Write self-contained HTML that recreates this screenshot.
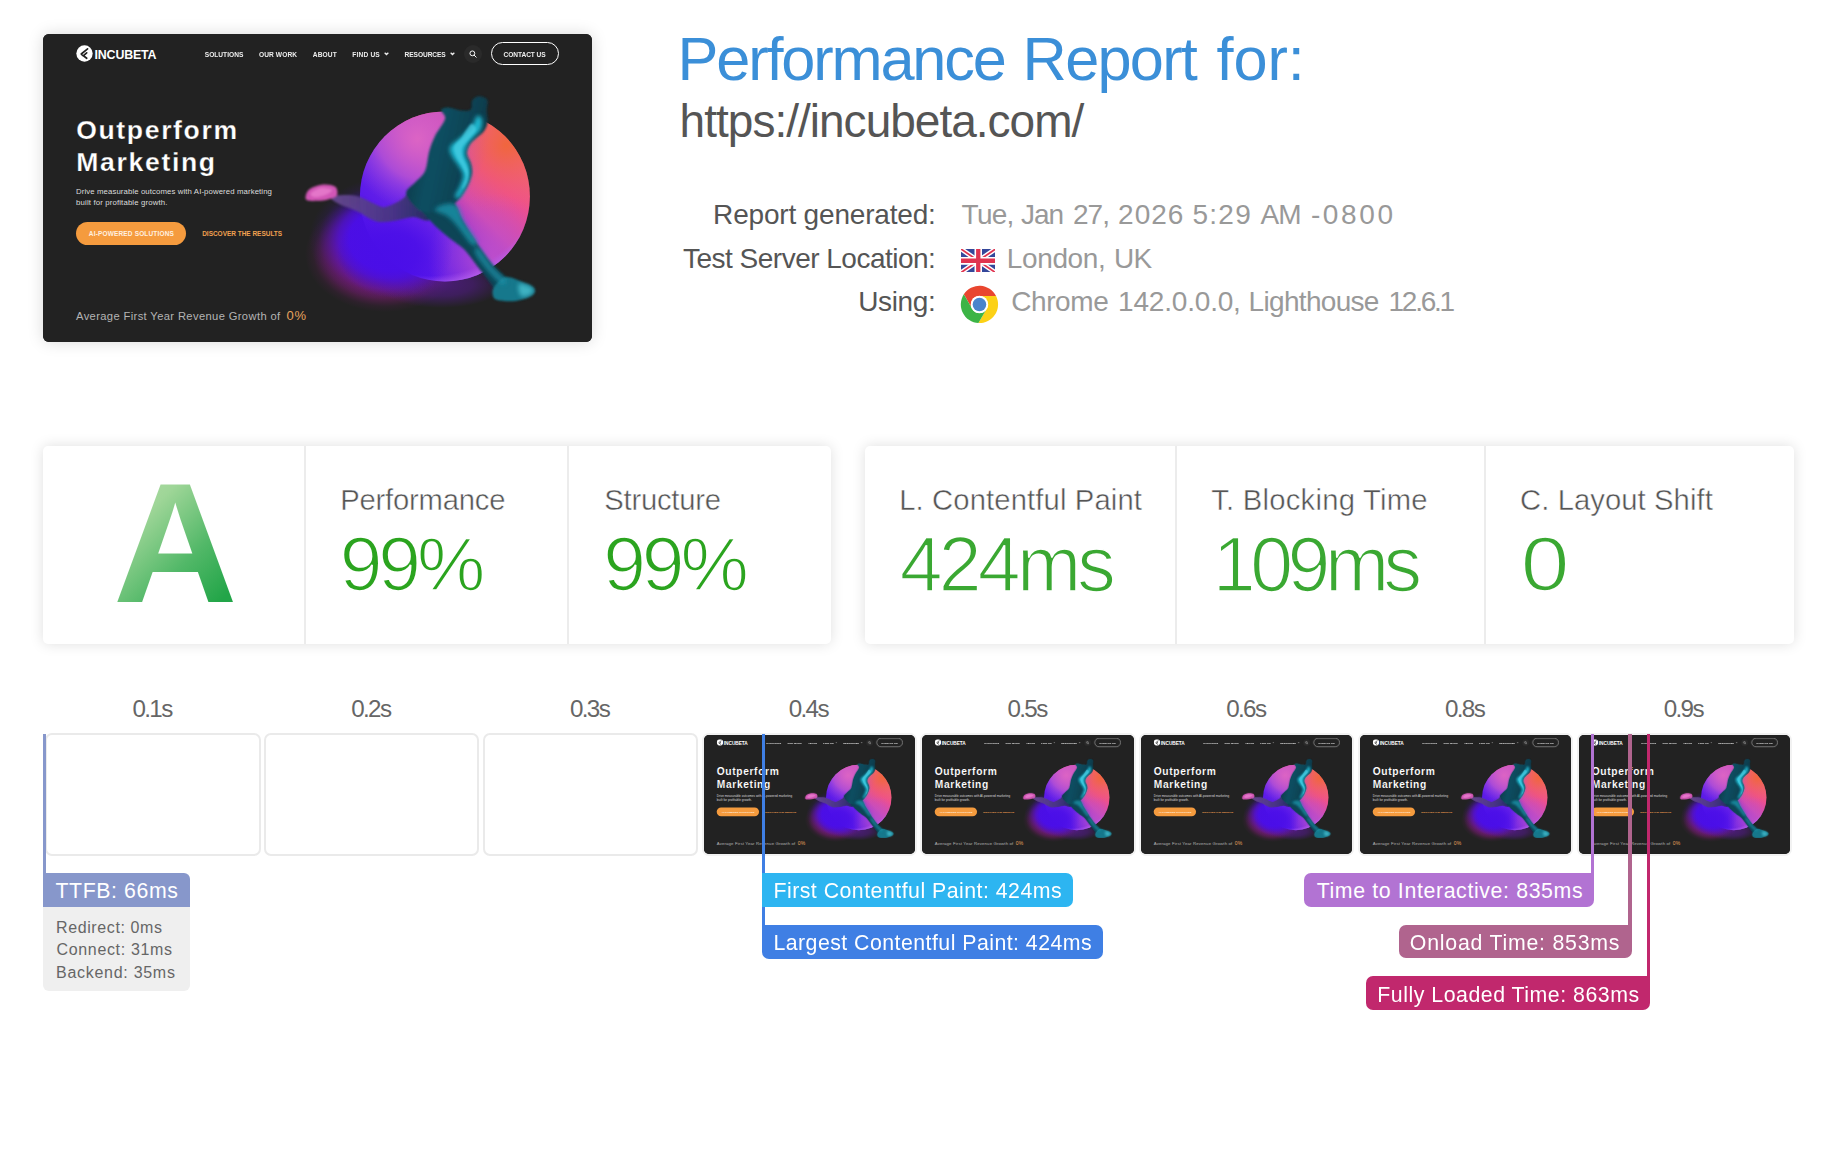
<!DOCTYPE html>
<html lang="en"><head><meta charset="utf-8"><title>Performance Report</title><style>
*{box-sizing:border-box;margin:0;padding:0}
html,body{width:1836px;height:1170px;background:#fff;overflow:hidden}
body{position:relative;font-family:"Liberation Sans",sans-serif}
.t{position:absolute;white-space:nowrap;line-height:1em}
.shot{position:absolute;left:43px;top:34px;width:549px;height:308px;border-radius:6px;overflow:hidden;box-shadow:0 0 16px rgba(0,0,0,.15);background:#222}
.site{position:absolute;left:0;top:0;width:549px;height:308px;background:#222;overflow:hidden}
.site .art{position:absolute;left:0;top:0}
.site .logo{position:absolute;left:32.8px;top:10.9px}
.site .chev{position:absolute}
.site .srch{position:absolute;left:421px;top:10.8px;width:18px;height:18px;border-radius:50%;background:#2a2a2a;display:flex;align-items:center;justify-content:center}
.site .pill{position:absolute;left:447.8px;top:8.1px;width:68px;height:23px;border:1.4px solid #fff;border-radius:12px}
.site .btn{position:absolute;left:33px;top:187.7px;width:110.3px;height:22.9px;border-radius:12px;background:#f59b3e}
.card{position:absolute;top:446px;height:197.5px;background:#fff;border-radius:5px;box-shadow:0 0 14px rgba(0,0,0,.13)}
.dv{position:absolute;top:446px;height:197.5px;width:2px;background:#ececec}
.grade{position:absolute;font-weight:700;line-height:1em;background:linear-gradient(135deg,#b9dfae 0%,#9fd698 30%,#52b868 60%,#22a548 85%);-webkit-background-clip:text;background-clip:text;color:transparent;-webkit-text-fill-color:transparent}
.fr{position:absolute;top:733.2px;width:215.4px;height:122.4px;border:2px solid #eaeaea;border-radius:7px;background:#fff;overflow:hidden}
.fr.dk{border-color:#f2f2f2;background:#222}
.thumb{position:absolute;left:0;top:0.3px;width:549px;height:308px;transform-origin:0 0;transform:scale(0.38506)}
.ln{position:absolute}
.lb{position:absolute;height:33.5px}
</style></head><body>
<div class="shot"><div class="site"><svg class="art" viewBox="0 0 549 308" width="549" height="308">
<defs>
<radialGradient id="glm"><stop offset="0" stop-color="#4a0ee8"/><stop offset="0.5" stop-color="#4a0ee8" stop-opacity="0.97"/><stop offset="0.63" stop-color="#490fe0" stop-opacity="0.75"/><stop offset="0.76" stop-color="#4710c8" stop-opacity="0.4"/><stop offset="0.88" stop-color="#4410b0" stop-opacity="0.12"/><stop offset="1" stop-color="#4010a0" stop-opacity="0"/></radialGradient>
<radialGradient id="gmm"><stop offset="0" stop-color="#a01c8c" stop-opacity="0.7"/><stop offset="0.6" stop-color="#a01c8c" stop-opacity="0.65"/><stop offset="0.76" stop-color="#981a88" stop-opacity="0.4"/><stop offset="0.9" stop-color="#901880" stop-opacity="0.1"/><stop offset="1" stop-color="#901880" stop-opacity="0"/></radialGradient>
<radialGradient id="gum"><stop offset="0" stop-color="#5a1a98" stop-opacity="0.7"/><stop offset="0.5" stop-color="#5a1a98" stop-opacity="0.5"/><stop offset="1" stop-color="#5a1a98" stop-opacity="0"/></radialGradient>
<radialGradient id="gom"><stop offset="0" stop-color="#4a0ee8" stop-opacity="0.92"/><stop offset="0.4" stop-color="#4a0ee8" stop-opacity="0.8"/><stop offset="0.7" stop-color="#4a0ee8" stop-opacity="0.35"/><stop offset="1" stop-color="#4a0ee8" stop-opacity="0"/></radialGradient>
<linearGradient id="obm" x1="0.12" y1="0.88" x2="0.92" y2="0.12"><stop offset="0" stop-color="#4a0eea"/><stop offset="0.36" stop-color="#6d26e8"/><stop offset="0.56" stop-color="#d24cae"/><stop offset="0.74" stop-color="#ef4f8c"/><stop offset="0.9" stop-color="#f0607a"/><stop offset="1" stop-color="#f0663c"/></linearGradient>
<radialGradient id="ohm" cx="0.34" cy="0.16" r="0.42"><stop offset="0" stop-color="#dc64c4" stop-opacity="1"/><stop offset="0.55" stop-color="#c058d4" stop-opacity="0.7"/><stop offset="1" stop-color="#9a48e0" stop-opacity="0"/></radialGradient>
<radialGradient id="opm" cx="0.86" cy="0.2" r="0.4"><stop offset="0" stop-color="#f0663a" stop-opacity="0.95"/><stop offset="1" stop-color="#f0607a" stop-opacity="0"/></radialGradient>
<radialGradient id="oqm" cx="0.78" cy="0.86" r="0.38"><stop offset="0" stop-color="#c050cc" stop-opacity="0.9"/><stop offset="1" stop-color="#c050cc" stop-opacity="0"/></radialGradient>
<radialGradient id="orm" cx="0.42" cy="0.3" r="0.74"><stop offset="0.9" stop-color="#b860f0" stop-opacity="0"/><stop offset="1" stop-color="#c070f0" stop-opacity="0.95"/></radialGradient>
<linearGradient id="fgm" x1="0" y1="0" x2="1" y2="0.3"><stop offset="0" stop-color="#0b2d3b"/><stop offset="0.45" stop-color="#114f62"/><stop offset="1" stop-color="#0d3a4a"/></linearGradient>
<linearGradient id="blm" x1="0" y1="0" x2="1" y2="0"><stop offset="0" stop-color="#6a4a94"/><stop offset="0.6" stop-color="#45357c"/><stop offset="1" stop-color="#15304a"/></linearGradient>
<filter id="b1m" x="-10%" y="-10%" width="120%" height="120%"><feGaussianBlur stdDeviation="0.9"/></filter>
<filter id="b3m" x="-50%" y="-50%" width="200%" height="200%"><feGaussianBlur stdDeviation="2.2"/></filter>
</defs>
<ellipse cx="342" cy="220" rx="80" ry="58" fill="url(#gmm)"/>
<ellipse cx="398" cy="250" rx="64" ry="24" fill="url(#gum)"/>
<ellipse cx="346" cy="205" rx="80" ry="62" fill="url(#glm)"/>
<circle cx="401.9" cy="162.4" r="85" fill="url(#obm)"/>
<circle cx="401.9" cy="162.4" r="85" fill="url(#ohm)"/>
<circle cx="401.9" cy="162.4" r="85" fill="url(#opm)"/>
<circle cx="401.9" cy="162.4" r="85" fill="url(#oqm)"/>
<circle cx="401.9" cy="162.4" r="85" fill="url(#orm)"/>
<ellipse cx="352" cy="218" rx="58" ry="46" fill="url(#gom)"/>
<g filter="url(#b1m)">
<path d="M379.0 146.0C374.0 143.8 369.2 153.9 366.0 157.0C362.8 160.1 363.4 162.2 359.8 164.8C356.2 167.4 348.2 171.4 344.1 172.6C340.0 173.8 340.5 173.4 335.4 171.7C330.3 169.9 320.1 163.8 313.6 162.1C307.1 160.4 300.6 161.2 296.2 161.3C291.8 161.5 287.0 161.6 287.0 163.0C287.0 164.4 291.8 167.7 296.2 170.0C300.6 172.3 307.4 174.1 313.6 177.0C319.9 179.9 327.1 185.8 333.7 187.4C340.2 189.0 346.8 187.2 352.9 186.5C359.0 185.8 364.8 183.2 370.3 183.1C375.8 183.0 381.7 188.2 386.0 186.0C390.3 183.8 397.2 176.7 396.0 170.0C394.8 163.3 384.0 148.2 379.0 146.0Z" fill="url(#blm)" opacity="0.92"/>
<path d="M291.9 152.6C289.4 150.9 283.2 150.2 278.8 150.8C274.4 151.4 268.3 153.5 265.7 156.0C263.1 158.5 261.7 163.8 263.1 165.6C264.6 167.4 270.6 166.9 274.4 166.8C278.2 166.7 282.5 166.2 285.8 165.2C289.1 164.2 293.0 163.1 294.0 161.0C295.0 158.9 294.4 154.3 291.9 152.6Z" fill="#d257b6"/>
<path d="M268.0 159.0C269.2 157.5 274.5 154.5 278.0 154.0C281.5 153.5 288.3 154.8 289.0 156.0C289.7 157.2 285.0 159.8 282.0 161.0C279.0 162.2 273.3 163.3 271.0 163.0C268.7 162.7 266.8 160.5 268.0 159.0Z" fill="#f08ad6" opacity="0.6"/>
<path d="M377.0 172.0C378.0 167.9 389.6 164.9 395.0 164.0C400.4 163.1 405.3 162.7 409.3 166.3C413.3 169.9 414.9 178.5 418.9 185.5C422.9 192.5 428.2 200.8 433.2 208.2C438.2 215.6 443.8 223.8 448.8 229.8C453.8 235.8 459.7 240.4 463.2 244.1C466.7 247.8 470.9 249.0 470.0 252.0C469.1 255.0 461.9 262.7 458.0 262.0C454.1 261.3 450.3 252.7 446.4 247.7C442.5 242.7 438.6 237.6 434.4 232.2C430.2 226.8 426.1 220.2 421.3 215.4C416.5 210.6 411.1 207.9 405.7 203.4C400.3 198.9 393.8 193.7 389.0 188.5C384.2 183.3 376.0 176.1 377.0 172.0Z" fill="#0f4456"/>
<path d="M452.0 252.0C454.2 249.3 458.6 243.7 463.0 243.0C467.4 242.3 474.1 245.9 478.7 247.7C483.3 249.5 488.9 251.5 490.7 253.7C492.5 255.9 492.5 258.7 489.5 260.9C486.5 263.1 478.7 266.1 472.7 266.9C466.7 267.7 457.5 267.0 453.6 265.7C449.7 264.4 449.8 261.3 449.5 259.0C449.2 256.7 449.8 254.7 452.0 252.0Z" fill="#17788c"/>
<path d="M398.0 76.0C398.5 74.1 401.8 73.3 405.2 73.4C408.6 73.5 414.7 76.2 418.5 76.5C422.3 76.8 426.0 77.2 427.8 75.5C429.6 73.8 427.9 68.5 429.3 66.3C430.7 64.1 433.5 62.3 436.0 62.2C438.5 62.1 442.9 63.3 444.2 65.7C445.5 68.1 443.6 72.8 443.7 76.5C443.8 80.2 445.1 84.4 444.7 87.8C444.3 91.2 443.1 94.3 441.1 97.0C439.1 99.7 435.3 102.0 432.9 104.2C430.5 106.4 428.2 107.8 426.7 110.4C425.2 113.0 423.5 116.4 423.7 119.6C423.9 122.8 426.9 126.4 427.8 129.8C428.7 133.2 429.4 136.4 428.8 140.1C428.2 143.8 426.5 148.0 424.5 152.0C422.5 156.0 419.8 160.7 417.0 164.0C414.2 167.3 412.2 169.7 408.0 172.0C403.8 174.3 397.3 177.3 392.0 178.0C386.7 178.7 380.8 179.1 376.0 176.0C371.2 172.9 363.8 164.2 363.2 159.6C362.6 155.0 369.2 152.1 372.4 148.3C375.5 144.5 379.8 142.1 382.1 137.0C384.4 131.9 384.6 123.3 386.2 117.5C387.8 111.7 389.2 107.7 391.9 102.2C394.5 96.7 401.1 89.1 402.1 84.7C403.1 80.3 397.5 77.9 398.0 76.0Z" fill="url(#fgm)"/>
</g>
<g filter="url(#b3m)">
<path d="M434.0 82.0C432.3 83.2 431.8 88.3 429.0 92.0C426.2 95.7 420.7 100.5 417.0 104.0C413.3 107.5 408.3 110.0 407.0 113.0C405.7 116.0 407.7 119.0 409.0 122.0C410.3 125.0 413.2 127.8 415.0 131.0C416.8 134.2 419.7 137.5 420.0 141.0C420.3 144.5 418.3 148.5 417.0 152.0C415.7 155.5 412.2 160.0 412.0 162.0C411.8 164.0 414.2 165.5 416.0 164.0C417.8 162.5 421.2 156.8 423.0 153.0C424.8 149.2 426.5 144.8 427.0 141.0C427.5 137.2 426.8 133.5 426.0 130.0C425.2 126.5 422.2 123.3 422.0 120.0C421.8 116.7 423.5 112.8 425.0 110.0C426.5 107.2 428.8 105.5 431.0 103.0C433.2 100.5 436.7 98.0 438.0 95.0C439.3 92.0 439.7 87.2 439.0 85.0C438.3 82.8 435.7 80.8 434.0 82.0Z" fill="#1fb4cc"/>
<path d="M392.0 176.0C391.7 174.0 398.3 170.7 402.0 170.0C405.7 169.3 410.8 169.0 414.0 172.0C417.2 175.0 417.7 182.0 421.0 188.0C424.3 194.0 432.8 204.3 434.0 208.0C435.2 211.7 431.3 212.7 428.0 210.0C424.7 207.3 418.0 196.7 414.0 192.0C410.0 187.3 407.7 184.7 404.0 182.0C400.3 179.3 392.3 178.0 392.0 176.0Z" fill="#1c93aa" opacity="0.8"/>
<path d="M436.0 214.0C439.0 216.3 445.5 227.7 450.0 233.0C454.5 238.3 461.7 243.2 463.0 246.0C464.3 248.8 461.2 251.7 458.0 250.0C454.8 248.3 448.3 241.2 444.0 236.0C439.7 230.8 433.3 222.7 432.0 219.0C430.7 215.3 433.0 211.7 436.0 214.0Z" fill="#1c93aa" opacity="0.7"/>
<path d="M476.0 250.0C477.8 248.7 487.0 252.3 489.0 254.0C491.0 255.7 489.8 258.7 488.0 260.0C486.2 261.3 480.0 263.7 478.0 262.0C476.0 260.3 474.2 251.3 476.0 250.0Z" fill="#44bccb" opacity="0.85"/>
</g>
<g filter="url(#b1m)"><path d="M428.0 90.0C425.7 91.2 421.8 99.2 419.0 103.0C416.2 106.8 411.8 109.5 411.0 113.0C410.2 116.5 412.5 120.5 414.0 124.0C415.5 127.5 418.5 130.8 420.0 134.0C421.5 137.2 423.2 139.5 423.0 143.0C422.8 146.5 418.8 154.2 419.0 155.0C419.2 155.8 423.0 151.2 424.0 148.0C425.0 144.8 425.7 140.0 425.0 136.0C424.3 132.0 421.0 127.7 420.0 124.0C419.0 120.3 418.0 117.2 419.0 114.0C420.0 110.8 423.7 108.0 426.0 105.0C428.3 102.0 432.7 98.5 433.0 96.0C433.3 93.5 430.3 88.8 428.0 90.0Z" fill="#48d0e6" opacity="0.7"/></g>
</svg>
<svg class="logo" viewBox="0 0 20 20" width="17" height="17"><circle cx="10" cy="10" r="9.6" fill="#fff"/><path d="M13.6 4.6 6.2 10.6l2 1.8M12.6 9.2 8.8 12.6l3.8 3" stroke="#222" stroke-width="2" fill="none" stroke-linecap="round" stroke-linejoin="round"/></svg>
<svg class="chev" style="left:340.5px;top:18.4px" viewBox="0 0 6 4" width="5" height="3.4"><path d="M.8.8 3 3 5.2.8" stroke="#eee" stroke-width="1.5" fill="none"/></svg>
<svg class="chev" style="left:406.5px;top:18.4px" viewBox="0 0 6 4" width="5" height="3.4"><path d="M.8.8 3 3 5.2.8" stroke="#eee" stroke-width="1.5" fill="none"/></svg>
<div class="srch"><svg viewBox="0 0 10 10" width="8" height="8"><circle cx="4.2" cy="4.2" r="3" stroke="#fff" stroke-width="1.2" fill="none"/><path d="M6.5 6.5 9 9" stroke="#fff" stroke-width="1.2" stroke-linecap="round"/></svg></div>
<div class="pill"></div>
<div class="btn"></div>
<div class="t" style="left:51.50px;top:15.40px;font-size:12.4px;letter-spacing:-0.148px;color:#fff;font-weight:700;">INCUBETA</div><div class="t" style="left:161.75px;top:18.21px;font-size:6.6px;letter-spacing:0.013px;color:#eee;font-weight:700;">SOLUTIONS</div><div class="t" style="left:216.05px;top:18.21px;font-size:6.6px;letter-spacing:0.082px;color:#eee;font-weight:700;">OUR WORK</div><div class="t" style="left:269.85px;top:18.21px;font-size:6.6px;letter-spacing:0.104px;color:#eee;font-weight:700;">ABOUT</div><div class="t" style="left:309.30px;top:18.21px;font-size:6.6px;letter-spacing:0.175px;color:#eee;font-weight:700;">FIND US</div><div class="t" style="left:361.60px;top:18.21px;font-size:6.6px;letter-spacing:-0.082px;color:#eee;font-weight:700;">RESOURCES</div><div class="t" style="left:460.45px;top:18.21px;font-size:6.6px;letter-spacing:-0.052px;color:#eee;font-weight:700;">CONTACT US</div><div class="t" style="left:33.15px;top:82.64px;font-size:26.56px;letter-spacing:1.660px;color:#fff;font-weight:700;-webkit-text-stroke:0.25px #222;">Outperform</div><div class="t" style="left:33.22px;top:115.24px;font-size:26.56px;letter-spacing:1.684px;color:#fff;font-weight:700;-webkit-text-stroke:0.25px #222;">Marketing</div><div class="t" style="left:33.00px;top:153.80px;font-size:7.8px;letter-spacing:0.097px;color:#dcdcdc;">Drive measurable outcomes with AI-powered marketing</div><div class="t" style="left:33.10px;top:164.50px;font-size:7.8px;letter-spacing:0.140px;color:#dcdcdc;">built for profitable growth.</div><div class="t" style="left:45.85px;top:197.30px;font-size:6.5px;letter-spacing:0.159px;color:#fff0e0;font-weight:700;">AI-POWERED SOLUTIONS</div><div class="t" style="left:159.20px;top:196.90px;font-size:6.5px;letter-spacing:-0.025px;color:#f0a050;font-weight:700;">DISCOVER THE RESULTS</div><div class="t" style="left:33.00px;top:276.52px;font-size:11.2px;letter-spacing:0.366px;color:#b4b4b4;">Average First Year Revenue Growth of</div><div class="t" style="left:243.39px;top:275.20px;font-size:13.0px;letter-spacing:0.804px;color:#e6a25e;">0%</div>
</div></div>
<svg style="position:absolute;left:960.5px;top:248.7px" width="34.5" height="23.6" preserveAspectRatio="none" viewBox="0 0 60 40"><rect width="60" height="40" fill="#34479a"/><path d="M0 0 60 40M60 0 0 40" stroke="#fff" stroke-width="8"/><path d="M0 0 60 40M60 0 0 40" stroke="#e0334f" stroke-width="3"/><path d="M30 0V40M0 20H60" stroke="#fff" stroke-width="13"/><path d="M30 0V40M0 20H60" stroke="#e0334f" stroke-width="7.5"/></svg>
<svg style="position:absolute;left:960.3px;top:285.2px" width="38.9" height="38.9" viewBox="0 0 48 48"><circle cx="24" cy="24" r="22.6" fill="#fff"/><path d="M24.00 13.60L44.51 13.60A23.0 23.0 0 0 0 4.74 11.43L14.99 29.20A10.4 10.4 0 0 1 24.00 13.60Z" fill="#e9462f"/><path d="M24.00 13.60L44.51 13.60A23.0 23.0 0 0 0 4.74 11.43L14.99 29.20A10.4 10.4 0 0 1 24.00 13.60Z" fill="#fcd116" transform="rotate(120 24 24)"/><path d="M24.00 13.60L44.51 13.60A23.0 23.0 0 0 0 4.74 11.43L14.99 29.20A10.4 10.4 0 0 1 24.00 13.60Z" fill="#3cb446" transform="rotate(240 24 24)"/><circle cx="24" cy="24" r="10.8" fill="#fff"/><circle cx="24" cy="24" r="8.4" fill="#4a84cc"/></svg>
<div class="card" style="left:43px;width:787.8px"></div>
<div class="card" style="left:865.4px;width:928.3px"></div>
<div class="dv" style="left:303.5px"></div><div class="dv" style="left:567.3px"></div>
<div class="dv" style="left:1175.4px"></div><div class="dv" style="left:1484.4px"></div>
<div class="grade" style="font-size:164.4px;left:112.8px;top:464.3px;transform-origin:0 100%;transform:scale(1.049,1.033)">A</div>
<div class="fr" style="left:45.2px"></div><div class="fr" style="left:263.9px"></div><div class="fr" style="left:482.7px"></div><div class="fr dk" style="left:701.5px"><div class="thumb"><div class="site"><svg class="art" viewBox="0 0 549 308" width="549" height="308">
<defs>
<radialGradient id="glt3"><stop offset="0" stop-color="#4a0ee8"/><stop offset="0.5" stop-color="#4a0ee8" stop-opacity="0.97"/><stop offset="0.63" stop-color="#490fe0" stop-opacity="0.75"/><stop offset="0.76" stop-color="#4710c8" stop-opacity="0.4"/><stop offset="0.88" stop-color="#4410b0" stop-opacity="0.12"/><stop offset="1" stop-color="#4010a0" stop-opacity="0"/></radialGradient>
<radialGradient id="gmt3"><stop offset="0" stop-color="#a01c8c" stop-opacity="0.7"/><stop offset="0.6" stop-color="#a01c8c" stop-opacity="0.65"/><stop offset="0.76" stop-color="#981a88" stop-opacity="0.4"/><stop offset="0.9" stop-color="#901880" stop-opacity="0.1"/><stop offset="1" stop-color="#901880" stop-opacity="0"/></radialGradient>
<radialGradient id="gut3"><stop offset="0" stop-color="#5a1a98" stop-opacity="0.7"/><stop offset="0.5" stop-color="#5a1a98" stop-opacity="0.5"/><stop offset="1" stop-color="#5a1a98" stop-opacity="0"/></radialGradient>
<radialGradient id="got3"><stop offset="0" stop-color="#4a0ee8" stop-opacity="0.92"/><stop offset="0.4" stop-color="#4a0ee8" stop-opacity="0.8"/><stop offset="0.7" stop-color="#4a0ee8" stop-opacity="0.35"/><stop offset="1" stop-color="#4a0ee8" stop-opacity="0"/></radialGradient>
<linearGradient id="obt3" x1="0.12" y1="0.88" x2="0.92" y2="0.12"><stop offset="0" stop-color="#4a0eea"/><stop offset="0.36" stop-color="#6d26e8"/><stop offset="0.56" stop-color="#d24cae"/><stop offset="0.74" stop-color="#ef4f8c"/><stop offset="0.9" stop-color="#f0607a"/><stop offset="1" stop-color="#f0663c"/></linearGradient>
<radialGradient id="oht3" cx="0.34" cy="0.16" r="0.42"><stop offset="0" stop-color="#dc64c4" stop-opacity="1"/><stop offset="0.55" stop-color="#c058d4" stop-opacity="0.7"/><stop offset="1" stop-color="#9a48e0" stop-opacity="0"/></radialGradient>
<radialGradient id="opt3" cx="0.86" cy="0.2" r="0.4"><stop offset="0" stop-color="#f0663a" stop-opacity="0.95"/><stop offset="1" stop-color="#f0607a" stop-opacity="0"/></radialGradient>
<radialGradient id="oqt3" cx="0.78" cy="0.86" r="0.38"><stop offset="0" stop-color="#c050cc" stop-opacity="0.9"/><stop offset="1" stop-color="#c050cc" stop-opacity="0"/></radialGradient>
<radialGradient id="ort3" cx="0.42" cy="0.3" r="0.74"><stop offset="0.9" stop-color="#b860f0" stop-opacity="0"/><stop offset="1" stop-color="#c070f0" stop-opacity="0.95"/></radialGradient>
<linearGradient id="fgt3" x1="0" y1="0" x2="1" y2="0.3"><stop offset="0" stop-color="#0b2d3b"/><stop offset="0.45" stop-color="#114f62"/><stop offset="1" stop-color="#0d3a4a"/></linearGradient>
<linearGradient id="blt3" x1="0" y1="0" x2="1" y2="0"><stop offset="0" stop-color="#6a4a94"/><stop offset="0.6" stop-color="#45357c"/><stop offset="1" stop-color="#15304a"/></linearGradient>
<filter id="b1t3" x="-10%" y="-10%" width="120%" height="120%"><feGaussianBlur stdDeviation="0.9"/></filter>
<filter id="b3t3" x="-50%" y="-50%" width="200%" height="200%"><feGaussianBlur stdDeviation="2.2"/></filter>
</defs>
<ellipse cx="342" cy="220" rx="80" ry="58" fill="url(#gmt3)"/>
<ellipse cx="398" cy="250" rx="64" ry="24" fill="url(#gut3)"/>
<ellipse cx="346" cy="205" rx="80" ry="62" fill="url(#glt3)"/>
<circle cx="401.9" cy="162.4" r="85" fill="url(#obt3)"/>
<circle cx="401.9" cy="162.4" r="85" fill="url(#oht3)"/>
<circle cx="401.9" cy="162.4" r="85" fill="url(#opt3)"/>
<circle cx="401.9" cy="162.4" r="85" fill="url(#oqt3)"/>
<circle cx="401.9" cy="162.4" r="85" fill="url(#ort3)"/>
<ellipse cx="352" cy="218" rx="58" ry="46" fill="url(#got3)"/>
<g filter="url(#b1t3)">
<path d="M379.0 146.0C374.0 143.8 369.2 153.9 366.0 157.0C362.8 160.1 363.4 162.2 359.8 164.8C356.2 167.4 348.2 171.4 344.1 172.6C340.0 173.8 340.5 173.4 335.4 171.7C330.3 169.9 320.1 163.8 313.6 162.1C307.1 160.4 300.6 161.2 296.2 161.3C291.8 161.5 287.0 161.6 287.0 163.0C287.0 164.4 291.8 167.7 296.2 170.0C300.6 172.3 307.4 174.1 313.6 177.0C319.9 179.9 327.1 185.8 333.7 187.4C340.2 189.0 346.8 187.2 352.9 186.5C359.0 185.8 364.8 183.2 370.3 183.1C375.8 183.0 381.7 188.2 386.0 186.0C390.3 183.8 397.2 176.7 396.0 170.0C394.8 163.3 384.0 148.2 379.0 146.0Z" fill="url(#blt3)" opacity="0.92"/>
<path d="M291.9 152.6C289.4 150.9 283.2 150.2 278.8 150.8C274.4 151.4 268.3 153.5 265.7 156.0C263.1 158.5 261.7 163.8 263.1 165.6C264.6 167.4 270.6 166.9 274.4 166.8C278.2 166.7 282.5 166.2 285.8 165.2C289.1 164.2 293.0 163.1 294.0 161.0C295.0 158.9 294.4 154.3 291.9 152.6Z" fill="#d257b6"/>
<path d="M268.0 159.0C269.2 157.5 274.5 154.5 278.0 154.0C281.5 153.5 288.3 154.8 289.0 156.0C289.7 157.2 285.0 159.8 282.0 161.0C279.0 162.2 273.3 163.3 271.0 163.0C268.7 162.7 266.8 160.5 268.0 159.0Z" fill="#f08ad6" opacity="0.6"/>
<path d="M377.0 172.0C378.0 167.9 389.6 164.9 395.0 164.0C400.4 163.1 405.3 162.7 409.3 166.3C413.3 169.9 414.9 178.5 418.9 185.5C422.9 192.5 428.2 200.8 433.2 208.2C438.2 215.6 443.8 223.8 448.8 229.8C453.8 235.8 459.7 240.4 463.2 244.1C466.7 247.8 470.9 249.0 470.0 252.0C469.1 255.0 461.9 262.7 458.0 262.0C454.1 261.3 450.3 252.7 446.4 247.7C442.5 242.7 438.6 237.6 434.4 232.2C430.2 226.8 426.1 220.2 421.3 215.4C416.5 210.6 411.1 207.9 405.7 203.4C400.3 198.9 393.8 193.7 389.0 188.5C384.2 183.3 376.0 176.1 377.0 172.0Z" fill="#0f4456"/>
<path d="M452.0 252.0C454.2 249.3 458.6 243.7 463.0 243.0C467.4 242.3 474.1 245.9 478.7 247.7C483.3 249.5 488.9 251.5 490.7 253.7C492.5 255.9 492.5 258.7 489.5 260.9C486.5 263.1 478.7 266.1 472.7 266.9C466.7 267.7 457.5 267.0 453.6 265.7C449.7 264.4 449.8 261.3 449.5 259.0C449.2 256.7 449.8 254.7 452.0 252.0Z" fill="#17788c"/>
<path d="M398.0 76.0C398.5 74.1 401.8 73.3 405.2 73.4C408.6 73.5 414.7 76.2 418.5 76.5C422.3 76.8 426.0 77.2 427.8 75.5C429.6 73.8 427.9 68.5 429.3 66.3C430.7 64.1 433.5 62.3 436.0 62.2C438.5 62.1 442.9 63.3 444.2 65.7C445.5 68.1 443.6 72.8 443.7 76.5C443.8 80.2 445.1 84.4 444.7 87.8C444.3 91.2 443.1 94.3 441.1 97.0C439.1 99.7 435.3 102.0 432.9 104.2C430.5 106.4 428.2 107.8 426.7 110.4C425.2 113.0 423.5 116.4 423.7 119.6C423.9 122.8 426.9 126.4 427.8 129.8C428.7 133.2 429.4 136.4 428.8 140.1C428.2 143.8 426.5 148.0 424.5 152.0C422.5 156.0 419.8 160.7 417.0 164.0C414.2 167.3 412.2 169.7 408.0 172.0C403.8 174.3 397.3 177.3 392.0 178.0C386.7 178.7 380.8 179.1 376.0 176.0C371.2 172.9 363.8 164.2 363.2 159.6C362.6 155.0 369.2 152.1 372.4 148.3C375.5 144.5 379.8 142.1 382.1 137.0C384.4 131.9 384.6 123.3 386.2 117.5C387.8 111.7 389.2 107.7 391.9 102.2C394.5 96.7 401.1 89.1 402.1 84.7C403.1 80.3 397.5 77.9 398.0 76.0Z" fill="url(#fgt3)"/>
</g>
<g filter="url(#b3t3)">
<path d="M434.0 82.0C432.3 83.2 431.8 88.3 429.0 92.0C426.2 95.7 420.7 100.5 417.0 104.0C413.3 107.5 408.3 110.0 407.0 113.0C405.7 116.0 407.7 119.0 409.0 122.0C410.3 125.0 413.2 127.8 415.0 131.0C416.8 134.2 419.7 137.5 420.0 141.0C420.3 144.5 418.3 148.5 417.0 152.0C415.7 155.5 412.2 160.0 412.0 162.0C411.8 164.0 414.2 165.5 416.0 164.0C417.8 162.5 421.2 156.8 423.0 153.0C424.8 149.2 426.5 144.8 427.0 141.0C427.5 137.2 426.8 133.5 426.0 130.0C425.2 126.5 422.2 123.3 422.0 120.0C421.8 116.7 423.5 112.8 425.0 110.0C426.5 107.2 428.8 105.5 431.0 103.0C433.2 100.5 436.7 98.0 438.0 95.0C439.3 92.0 439.7 87.2 439.0 85.0C438.3 82.8 435.7 80.8 434.0 82.0Z" fill="#1fb4cc"/>
<path d="M392.0 176.0C391.7 174.0 398.3 170.7 402.0 170.0C405.7 169.3 410.8 169.0 414.0 172.0C417.2 175.0 417.7 182.0 421.0 188.0C424.3 194.0 432.8 204.3 434.0 208.0C435.2 211.7 431.3 212.7 428.0 210.0C424.7 207.3 418.0 196.7 414.0 192.0C410.0 187.3 407.7 184.7 404.0 182.0C400.3 179.3 392.3 178.0 392.0 176.0Z" fill="#1c93aa" opacity="0.8"/>
<path d="M436.0 214.0C439.0 216.3 445.5 227.7 450.0 233.0C454.5 238.3 461.7 243.2 463.0 246.0C464.3 248.8 461.2 251.7 458.0 250.0C454.8 248.3 448.3 241.2 444.0 236.0C439.7 230.8 433.3 222.7 432.0 219.0C430.7 215.3 433.0 211.7 436.0 214.0Z" fill="#1c93aa" opacity="0.7"/>
<path d="M476.0 250.0C477.8 248.7 487.0 252.3 489.0 254.0C491.0 255.7 489.8 258.7 488.0 260.0C486.2 261.3 480.0 263.7 478.0 262.0C476.0 260.3 474.2 251.3 476.0 250.0Z" fill="#44bccb" opacity="0.85"/>
</g>
<g filter="url(#b1t3)"><path d="M428.0 90.0C425.7 91.2 421.8 99.2 419.0 103.0C416.2 106.8 411.8 109.5 411.0 113.0C410.2 116.5 412.5 120.5 414.0 124.0C415.5 127.5 418.5 130.8 420.0 134.0C421.5 137.2 423.2 139.5 423.0 143.0C422.8 146.5 418.8 154.2 419.0 155.0C419.2 155.8 423.0 151.2 424.0 148.0C425.0 144.8 425.7 140.0 425.0 136.0C424.3 132.0 421.0 127.7 420.0 124.0C419.0 120.3 418.0 117.2 419.0 114.0C420.0 110.8 423.7 108.0 426.0 105.0C428.3 102.0 432.7 98.5 433.0 96.0C433.3 93.5 430.3 88.8 428.0 90.0Z" fill="#48d0e6" opacity="0.7"/></g>
</svg>
<svg class="logo" viewBox="0 0 20 20" width="17" height="17"><circle cx="10" cy="10" r="9.6" fill="#fff"/><path d="M13.6 4.6 6.2 10.6l2 1.8M12.6 9.2 8.8 12.6l3.8 3" stroke="#222" stroke-width="2" fill="none" stroke-linecap="round" stroke-linejoin="round"/></svg>
<svg class="chev" style="left:340.5px;top:18.4px" viewBox="0 0 6 4" width="5" height="3.4"><path d="M.8.8 3 3 5.2.8" stroke="#eee" stroke-width="1.5" fill="none"/></svg>
<svg class="chev" style="left:406.5px;top:18.4px" viewBox="0 0 6 4" width="5" height="3.4"><path d="M.8.8 3 3 5.2.8" stroke="#eee" stroke-width="1.5" fill="none"/></svg>
<div class="srch"><svg viewBox="0 0 10 10" width="8" height="8"><circle cx="4.2" cy="4.2" r="3" stroke="#fff" stroke-width="1.2" fill="none"/><path d="M6.5 6.5 9 9" stroke="#fff" stroke-width="1.2" stroke-linecap="round"/></svg></div>
<div class="pill"></div>
<div class="btn"></div>
<div class="t" style="left:51.50px;top:15.40px;font-size:12.4px;letter-spacing:-0.148px;color:#fff;font-weight:700;">INCUBETA</div><div class="t" style="left:161.75px;top:18.21px;font-size:6.6px;letter-spacing:0.013px;color:#eee;font-weight:700;">SOLUTIONS</div><div class="t" style="left:216.05px;top:18.21px;font-size:6.6px;letter-spacing:0.082px;color:#eee;font-weight:700;">OUR WORK</div><div class="t" style="left:269.85px;top:18.21px;font-size:6.6px;letter-spacing:0.104px;color:#eee;font-weight:700;">ABOUT</div><div class="t" style="left:309.30px;top:18.21px;font-size:6.6px;letter-spacing:0.175px;color:#eee;font-weight:700;">FIND US</div><div class="t" style="left:361.60px;top:18.21px;font-size:6.6px;letter-spacing:-0.082px;color:#eee;font-weight:700;">RESOURCES</div><div class="t" style="left:460.45px;top:18.21px;font-size:6.6px;letter-spacing:-0.052px;color:#eee;font-weight:700;">CONTACT US</div><div class="t" style="left:33.15px;top:82.64px;font-size:26.56px;letter-spacing:1.660px;color:#fff;font-weight:700;-webkit-text-stroke:0.25px #222;">Outperform</div><div class="t" style="left:33.22px;top:115.24px;font-size:26.56px;letter-spacing:1.684px;color:#fff;font-weight:700;-webkit-text-stroke:0.25px #222;">Marketing</div><div class="t" style="left:33.00px;top:153.80px;font-size:7.8px;letter-spacing:0.097px;color:#dcdcdc;">Drive measurable outcomes with AI-powered marketing</div><div class="t" style="left:33.10px;top:164.50px;font-size:7.8px;letter-spacing:0.140px;color:#dcdcdc;">built for profitable growth.</div><div class="t" style="left:45.85px;top:197.30px;font-size:6.5px;letter-spacing:0.159px;color:#fff0e0;font-weight:700;">AI-POWERED SOLUTIONS</div><div class="t" style="left:159.20px;top:196.90px;font-size:6.5px;letter-spacing:-0.025px;color:#f0a050;font-weight:700;">DISCOVER THE RESULTS</div><div class="t" style="left:33.00px;top:276.52px;font-size:11.2px;letter-spacing:0.366px;color:#b4b4b4;">Average First Year Revenue Growth of</div><div class="t" style="left:243.39px;top:275.20px;font-size:13.0px;letter-spacing:0.804px;color:#e6a25e;">0%</div>
</div></div></div><div class="fr dk" style="left:920.2px"><div class="thumb"><div class="site"><svg class="art" viewBox="0 0 549 308" width="549" height="308">
<defs>
<radialGradient id="glt4"><stop offset="0" stop-color="#4a0ee8"/><stop offset="0.5" stop-color="#4a0ee8" stop-opacity="0.97"/><stop offset="0.63" stop-color="#490fe0" stop-opacity="0.75"/><stop offset="0.76" stop-color="#4710c8" stop-opacity="0.4"/><stop offset="0.88" stop-color="#4410b0" stop-opacity="0.12"/><stop offset="1" stop-color="#4010a0" stop-opacity="0"/></radialGradient>
<radialGradient id="gmt4"><stop offset="0" stop-color="#a01c8c" stop-opacity="0.7"/><stop offset="0.6" stop-color="#a01c8c" stop-opacity="0.65"/><stop offset="0.76" stop-color="#981a88" stop-opacity="0.4"/><stop offset="0.9" stop-color="#901880" stop-opacity="0.1"/><stop offset="1" stop-color="#901880" stop-opacity="0"/></radialGradient>
<radialGradient id="gut4"><stop offset="0" stop-color="#5a1a98" stop-opacity="0.7"/><stop offset="0.5" stop-color="#5a1a98" stop-opacity="0.5"/><stop offset="1" stop-color="#5a1a98" stop-opacity="0"/></radialGradient>
<radialGradient id="got4"><stop offset="0" stop-color="#4a0ee8" stop-opacity="0.92"/><stop offset="0.4" stop-color="#4a0ee8" stop-opacity="0.8"/><stop offset="0.7" stop-color="#4a0ee8" stop-opacity="0.35"/><stop offset="1" stop-color="#4a0ee8" stop-opacity="0"/></radialGradient>
<linearGradient id="obt4" x1="0.12" y1="0.88" x2="0.92" y2="0.12"><stop offset="0" stop-color="#4a0eea"/><stop offset="0.36" stop-color="#6d26e8"/><stop offset="0.56" stop-color="#d24cae"/><stop offset="0.74" stop-color="#ef4f8c"/><stop offset="0.9" stop-color="#f0607a"/><stop offset="1" stop-color="#f0663c"/></linearGradient>
<radialGradient id="oht4" cx="0.34" cy="0.16" r="0.42"><stop offset="0" stop-color="#dc64c4" stop-opacity="1"/><stop offset="0.55" stop-color="#c058d4" stop-opacity="0.7"/><stop offset="1" stop-color="#9a48e0" stop-opacity="0"/></radialGradient>
<radialGradient id="opt4" cx="0.86" cy="0.2" r="0.4"><stop offset="0" stop-color="#f0663a" stop-opacity="0.95"/><stop offset="1" stop-color="#f0607a" stop-opacity="0"/></radialGradient>
<radialGradient id="oqt4" cx="0.78" cy="0.86" r="0.38"><stop offset="0" stop-color="#c050cc" stop-opacity="0.9"/><stop offset="1" stop-color="#c050cc" stop-opacity="0"/></radialGradient>
<radialGradient id="ort4" cx="0.42" cy="0.3" r="0.74"><stop offset="0.9" stop-color="#b860f0" stop-opacity="0"/><stop offset="1" stop-color="#c070f0" stop-opacity="0.95"/></radialGradient>
<linearGradient id="fgt4" x1="0" y1="0" x2="1" y2="0.3"><stop offset="0" stop-color="#0b2d3b"/><stop offset="0.45" stop-color="#114f62"/><stop offset="1" stop-color="#0d3a4a"/></linearGradient>
<linearGradient id="blt4" x1="0" y1="0" x2="1" y2="0"><stop offset="0" stop-color="#6a4a94"/><stop offset="0.6" stop-color="#45357c"/><stop offset="1" stop-color="#15304a"/></linearGradient>
<filter id="b1t4" x="-10%" y="-10%" width="120%" height="120%"><feGaussianBlur stdDeviation="0.9"/></filter>
<filter id="b3t4" x="-50%" y="-50%" width="200%" height="200%"><feGaussianBlur stdDeviation="2.2"/></filter>
</defs>
<ellipse cx="342" cy="220" rx="80" ry="58" fill="url(#gmt4)"/>
<ellipse cx="398" cy="250" rx="64" ry="24" fill="url(#gut4)"/>
<ellipse cx="346" cy="205" rx="80" ry="62" fill="url(#glt4)"/>
<circle cx="401.9" cy="162.4" r="85" fill="url(#obt4)"/>
<circle cx="401.9" cy="162.4" r="85" fill="url(#oht4)"/>
<circle cx="401.9" cy="162.4" r="85" fill="url(#opt4)"/>
<circle cx="401.9" cy="162.4" r="85" fill="url(#oqt4)"/>
<circle cx="401.9" cy="162.4" r="85" fill="url(#ort4)"/>
<ellipse cx="352" cy="218" rx="58" ry="46" fill="url(#got4)"/>
<g filter="url(#b1t4)">
<path d="M379.0 146.0C374.0 143.8 369.2 153.9 366.0 157.0C362.8 160.1 363.4 162.2 359.8 164.8C356.2 167.4 348.2 171.4 344.1 172.6C340.0 173.8 340.5 173.4 335.4 171.7C330.3 169.9 320.1 163.8 313.6 162.1C307.1 160.4 300.6 161.2 296.2 161.3C291.8 161.5 287.0 161.6 287.0 163.0C287.0 164.4 291.8 167.7 296.2 170.0C300.6 172.3 307.4 174.1 313.6 177.0C319.9 179.9 327.1 185.8 333.7 187.4C340.2 189.0 346.8 187.2 352.9 186.5C359.0 185.8 364.8 183.2 370.3 183.1C375.8 183.0 381.7 188.2 386.0 186.0C390.3 183.8 397.2 176.7 396.0 170.0C394.8 163.3 384.0 148.2 379.0 146.0Z" fill="url(#blt4)" opacity="0.92"/>
<path d="M291.9 152.6C289.4 150.9 283.2 150.2 278.8 150.8C274.4 151.4 268.3 153.5 265.7 156.0C263.1 158.5 261.7 163.8 263.1 165.6C264.6 167.4 270.6 166.9 274.4 166.8C278.2 166.7 282.5 166.2 285.8 165.2C289.1 164.2 293.0 163.1 294.0 161.0C295.0 158.9 294.4 154.3 291.9 152.6Z" fill="#d257b6"/>
<path d="M268.0 159.0C269.2 157.5 274.5 154.5 278.0 154.0C281.5 153.5 288.3 154.8 289.0 156.0C289.7 157.2 285.0 159.8 282.0 161.0C279.0 162.2 273.3 163.3 271.0 163.0C268.7 162.7 266.8 160.5 268.0 159.0Z" fill="#f08ad6" opacity="0.6"/>
<path d="M377.0 172.0C378.0 167.9 389.6 164.9 395.0 164.0C400.4 163.1 405.3 162.7 409.3 166.3C413.3 169.9 414.9 178.5 418.9 185.5C422.9 192.5 428.2 200.8 433.2 208.2C438.2 215.6 443.8 223.8 448.8 229.8C453.8 235.8 459.7 240.4 463.2 244.1C466.7 247.8 470.9 249.0 470.0 252.0C469.1 255.0 461.9 262.7 458.0 262.0C454.1 261.3 450.3 252.7 446.4 247.7C442.5 242.7 438.6 237.6 434.4 232.2C430.2 226.8 426.1 220.2 421.3 215.4C416.5 210.6 411.1 207.9 405.7 203.4C400.3 198.9 393.8 193.7 389.0 188.5C384.2 183.3 376.0 176.1 377.0 172.0Z" fill="#0f4456"/>
<path d="M452.0 252.0C454.2 249.3 458.6 243.7 463.0 243.0C467.4 242.3 474.1 245.9 478.7 247.7C483.3 249.5 488.9 251.5 490.7 253.7C492.5 255.9 492.5 258.7 489.5 260.9C486.5 263.1 478.7 266.1 472.7 266.9C466.7 267.7 457.5 267.0 453.6 265.7C449.7 264.4 449.8 261.3 449.5 259.0C449.2 256.7 449.8 254.7 452.0 252.0Z" fill="#17788c"/>
<path d="M398.0 76.0C398.5 74.1 401.8 73.3 405.2 73.4C408.6 73.5 414.7 76.2 418.5 76.5C422.3 76.8 426.0 77.2 427.8 75.5C429.6 73.8 427.9 68.5 429.3 66.3C430.7 64.1 433.5 62.3 436.0 62.2C438.5 62.1 442.9 63.3 444.2 65.7C445.5 68.1 443.6 72.8 443.7 76.5C443.8 80.2 445.1 84.4 444.7 87.8C444.3 91.2 443.1 94.3 441.1 97.0C439.1 99.7 435.3 102.0 432.9 104.2C430.5 106.4 428.2 107.8 426.7 110.4C425.2 113.0 423.5 116.4 423.7 119.6C423.9 122.8 426.9 126.4 427.8 129.8C428.7 133.2 429.4 136.4 428.8 140.1C428.2 143.8 426.5 148.0 424.5 152.0C422.5 156.0 419.8 160.7 417.0 164.0C414.2 167.3 412.2 169.7 408.0 172.0C403.8 174.3 397.3 177.3 392.0 178.0C386.7 178.7 380.8 179.1 376.0 176.0C371.2 172.9 363.8 164.2 363.2 159.6C362.6 155.0 369.2 152.1 372.4 148.3C375.5 144.5 379.8 142.1 382.1 137.0C384.4 131.9 384.6 123.3 386.2 117.5C387.8 111.7 389.2 107.7 391.9 102.2C394.5 96.7 401.1 89.1 402.1 84.7C403.1 80.3 397.5 77.9 398.0 76.0Z" fill="url(#fgt4)"/>
</g>
<g filter="url(#b3t4)">
<path d="M434.0 82.0C432.3 83.2 431.8 88.3 429.0 92.0C426.2 95.7 420.7 100.5 417.0 104.0C413.3 107.5 408.3 110.0 407.0 113.0C405.7 116.0 407.7 119.0 409.0 122.0C410.3 125.0 413.2 127.8 415.0 131.0C416.8 134.2 419.7 137.5 420.0 141.0C420.3 144.5 418.3 148.5 417.0 152.0C415.7 155.5 412.2 160.0 412.0 162.0C411.8 164.0 414.2 165.5 416.0 164.0C417.8 162.5 421.2 156.8 423.0 153.0C424.8 149.2 426.5 144.8 427.0 141.0C427.5 137.2 426.8 133.5 426.0 130.0C425.2 126.5 422.2 123.3 422.0 120.0C421.8 116.7 423.5 112.8 425.0 110.0C426.5 107.2 428.8 105.5 431.0 103.0C433.2 100.5 436.7 98.0 438.0 95.0C439.3 92.0 439.7 87.2 439.0 85.0C438.3 82.8 435.7 80.8 434.0 82.0Z" fill="#1fb4cc"/>
<path d="M392.0 176.0C391.7 174.0 398.3 170.7 402.0 170.0C405.7 169.3 410.8 169.0 414.0 172.0C417.2 175.0 417.7 182.0 421.0 188.0C424.3 194.0 432.8 204.3 434.0 208.0C435.2 211.7 431.3 212.7 428.0 210.0C424.7 207.3 418.0 196.7 414.0 192.0C410.0 187.3 407.7 184.7 404.0 182.0C400.3 179.3 392.3 178.0 392.0 176.0Z" fill="#1c93aa" opacity="0.8"/>
<path d="M436.0 214.0C439.0 216.3 445.5 227.7 450.0 233.0C454.5 238.3 461.7 243.2 463.0 246.0C464.3 248.8 461.2 251.7 458.0 250.0C454.8 248.3 448.3 241.2 444.0 236.0C439.7 230.8 433.3 222.7 432.0 219.0C430.7 215.3 433.0 211.7 436.0 214.0Z" fill="#1c93aa" opacity="0.7"/>
<path d="M476.0 250.0C477.8 248.7 487.0 252.3 489.0 254.0C491.0 255.7 489.8 258.7 488.0 260.0C486.2 261.3 480.0 263.7 478.0 262.0C476.0 260.3 474.2 251.3 476.0 250.0Z" fill="#44bccb" opacity="0.85"/>
</g>
<g filter="url(#b1t4)"><path d="M428.0 90.0C425.7 91.2 421.8 99.2 419.0 103.0C416.2 106.8 411.8 109.5 411.0 113.0C410.2 116.5 412.5 120.5 414.0 124.0C415.5 127.5 418.5 130.8 420.0 134.0C421.5 137.2 423.2 139.5 423.0 143.0C422.8 146.5 418.8 154.2 419.0 155.0C419.2 155.8 423.0 151.2 424.0 148.0C425.0 144.8 425.7 140.0 425.0 136.0C424.3 132.0 421.0 127.7 420.0 124.0C419.0 120.3 418.0 117.2 419.0 114.0C420.0 110.8 423.7 108.0 426.0 105.0C428.3 102.0 432.7 98.5 433.0 96.0C433.3 93.5 430.3 88.8 428.0 90.0Z" fill="#48d0e6" opacity="0.7"/></g>
</svg>
<svg class="logo" viewBox="0 0 20 20" width="17" height="17"><circle cx="10" cy="10" r="9.6" fill="#fff"/><path d="M13.6 4.6 6.2 10.6l2 1.8M12.6 9.2 8.8 12.6l3.8 3" stroke="#222" stroke-width="2" fill="none" stroke-linecap="round" stroke-linejoin="round"/></svg>
<svg class="chev" style="left:340.5px;top:18.4px" viewBox="0 0 6 4" width="5" height="3.4"><path d="M.8.8 3 3 5.2.8" stroke="#eee" stroke-width="1.5" fill="none"/></svg>
<svg class="chev" style="left:406.5px;top:18.4px" viewBox="0 0 6 4" width="5" height="3.4"><path d="M.8.8 3 3 5.2.8" stroke="#eee" stroke-width="1.5" fill="none"/></svg>
<div class="srch"><svg viewBox="0 0 10 10" width="8" height="8"><circle cx="4.2" cy="4.2" r="3" stroke="#fff" stroke-width="1.2" fill="none"/><path d="M6.5 6.5 9 9" stroke="#fff" stroke-width="1.2" stroke-linecap="round"/></svg></div>
<div class="pill"></div>
<div class="btn"></div>
<div class="t" style="left:51.50px;top:15.40px;font-size:12.4px;letter-spacing:-0.148px;color:#fff;font-weight:700;">INCUBETA</div><div class="t" style="left:161.75px;top:18.21px;font-size:6.6px;letter-spacing:0.013px;color:#eee;font-weight:700;">SOLUTIONS</div><div class="t" style="left:216.05px;top:18.21px;font-size:6.6px;letter-spacing:0.082px;color:#eee;font-weight:700;">OUR WORK</div><div class="t" style="left:269.85px;top:18.21px;font-size:6.6px;letter-spacing:0.104px;color:#eee;font-weight:700;">ABOUT</div><div class="t" style="left:309.30px;top:18.21px;font-size:6.6px;letter-spacing:0.175px;color:#eee;font-weight:700;">FIND US</div><div class="t" style="left:361.60px;top:18.21px;font-size:6.6px;letter-spacing:-0.082px;color:#eee;font-weight:700;">RESOURCES</div><div class="t" style="left:460.45px;top:18.21px;font-size:6.6px;letter-spacing:-0.052px;color:#eee;font-weight:700;">CONTACT US</div><div class="t" style="left:33.15px;top:82.64px;font-size:26.56px;letter-spacing:1.660px;color:#fff;font-weight:700;-webkit-text-stroke:0.25px #222;">Outperform</div><div class="t" style="left:33.22px;top:115.24px;font-size:26.56px;letter-spacing:1.684px;color:#fff;font-weight:700;-webkit-text-stroke:0.25px #222;">Marketing</div><div class="t" style="left:33.00px;top:153.80px;font-size:7.8px;letter-spacing:0.097px;color:#dcdcdc;">Drive measurable outcomes with AI-powered marketing</div><div class="t" style="left:33.10px;top:164.50px;font-size:7.8px;letter-spacing:0.140px;color:#dcdcdc;">built for profitable growth.</div><div class="t" style="left:45.85px;top:197.30px;font-size:6.5px;letter-spacing:0.159px;color:#fff0e0;font-weight:700;">AI-POWERED SOLUTIONS</div><div class="t" style="left:159.20px;top:196.90px;font-size:6.5px;letter-spacing:-0.025px;color:#f0a050;font-weight:700;">DISCOVER THE RESULTS</div><div class="t" style="left:33.00px;top:276.52px;font-size:11.2px;letter-spacing:0.366px;color:#b4b4b4;">Average First Year Revenue Growth of</div><div class="t" style="left:243.39px;top:275.20px;font-size:13.0px;letter-spacing:0.804px;color:#e6a25e;">0%</div>
</div></div></div><div class="fr dk" style="left:1139.0px"><div class="thumb"><div class="site"><svg class="art" viewBox="0 0 549 308" width="549" height="308">
<defs>
<radialGradient id="glt5"><stop offset="0" stop-color="#4a0ee8"/><stop offset="0.5" stop-color="#4a0ee8" stop-opacity="0.97"/><stop offset="0.63" stop-color="#490fe0" stop-opacity="0.75"/><stop offset="0.76" stop-color="#4710c8" stop-opacity="0.4"/><stop offset="0.88" stop-color="#4410b0" stop-opacity="0.12"/><stop offset="1" stop-color="#4010a0" stop-opacity="0"/></radialGradient>
<radialGradient id="gmt5"><stop offset="0" stop-color="#a01c8c" stop-opacity="0.7"/><stop offset="0.6" stop-color="#a01c8c" stop-opacity="0.65"/><stop offset="0.76" stop-color="#981a88" stop-opacity="0.4"/><stop offset="0.9" stop-color="#901880" stop-opacity="0.1"/><stop offset="1" stop-color="#901880" stop-opacity="0"/></radialGradient>
<radialGradient id="gut5"><stop offset="0" stop-color="#5a1a98" stop-opacity="0.7"/><stop offset="0.5" stop-color="#5a1a98" stop-opacity="0.5"/><stop offset="1" stop-color="#5a1a98" stop-opacity="0"/></radialGradient>
<radialGradient id="got5"><stop offset="0" stop-color="#4a0ee8" stop-opacity="0.92"/><stop offset="0.4" stop-color="#4a0ee8" stop-opacity="0.8"/><stop offset="0.7" stop-color="#4a0ee8" stop-opacity="0.35"/><stop offset="1" stop-color="#4a0ee8" stop-opacity="0"/></radialGradient>
<linearGradient id="obt5" x1="0.12" y1="0.88" x2="0.92" y2="0.12"><stop offset="0" stop-color="#4a0eea"/><stop offset="0.36" stop-color="#6d26e8"/><stop offset="0.56" stop-color="#d24cae"/><stop offset="0.74" stop-color="#ef4f8c"/><stop offset="0.9" stop-color="#f0607a"/><stop offset="1" stop-color="#f0663c"/></linearGradient>
<radialGradient id="oht5" cx="0.34" cy="0.16" r="0.42"><stop offset="0" stop-color="#dc64c4" stop-opacity="1"/><stop offset="0.55" stop-color="#c058d4" stop-opacity="0.7"/><stop offset="1" stop-color="#9a48e0" stop-opacity="0"/></radialGradient>
<radialGradient id="opt5" cx="0.86" cy="0.2" r="0.4"><stop offset="0" stop-color="#f0663a" stop-opacity="0.95"/><stop offset="1" stop-color="#f0607a" stop-opacity="0"/></radialGradient>
<radialGradient id="oqt5" cx="0.78" cy="0.86" r="0.38"><stop offset="0" stop-color="#c050cc" stop-opacity="0.9"/><stop offset="1" stop-color="#c050cc" stop-opacity="0"/></radialGradient>
<radialGradient id="ort5" cx="0.42" cy="0.3" r="0.74"><stop offset="0.9" stop-color="#b860f0" stop-opacity="0"/><stop offset="1" stop-color="#c070f0" stop-opacity="0.95"/></radialGradient>
<linearGradient id="fgt5" x1="0" y1="0" x2="1" y2="0.3"><stop offset="0" stop-color="#0b2d3b"/><stop offset="0.45" stop-color="#114f62"/><stop offset="1" stop-color="#0d3a4a"/></linearGradient>
<linearGradient id="blt5" x1="0" y1="0" x2="1" y2="0"><stop offset="0" stop-color="#6a4a94"/><stop offset="0.6" stop-color="#45357c"/><stop offset="1" stop-color="#15304a"/></linearGradient>
<filter id="b1t5" x="-10%" y="-10%" width="120%" height="120%"><feGaussianBlur stdDeviation="0.9"/></filter>
<filter id="b3t5" x="-50%" y="-50%" width="200%" height="200%"><feGaussianBlur stdDeviation="2.2"/></filter>
</defs>
<ellipse cx="342" cy="220" rx="80" ry="58" fill="url(#gmt5)"/>
<ellipse cx="398" cy="250" rx="64" ry="24" fill="url(#gut5)"/>
<ellipse cx="346" cy="205" rx="80" ry="62" fill="url(#glt5)"/>
<circle cx="401.9" cy="162.4" r="85" fill="url(#obt5)"/>
<circle cx="401.9" cy="162.4" r="85" fill="url(#oht5)"/>
<circle cx="401.9" cy="162.4" r="85" fill="url(#opt5)"/>
<circle cx="401.9" cy="162.4" r="85" fill="url(#oqt5)"/>
<circle cx="401.9" cy="162.4" r="85" fill="url(#ort5)"/>
<ellipse cx="352" cy="218" rx="58" ry="46" fill="url(#got5)"/>
<g filter="url(#b1t5)">
<path d="M379.0 146.0C374.0 143.8 369.2 153.9 366.0 157.0C362.8 160.1 363.4 162.2 359.8 164.8C356.2 167.4 348.2 171.4 344.1 172.6C340.0 173.8 340.5 173.4 335.4 171.7C330.3 169.9 320.1 163.8 313.6 162.1C307.1 160.4 300.6 161.2 296.2 161.3C291.8 161.5 287.0 161.6 287.0 163.0C287.0 164.4 291.8 167.7 296.2 170.0C300.6 172.3 307.4 174.1 313.6 177.0C319.9 179.9 327.1 185.8 333.7 187.4C340.2 189.0 346.8 187.2 352.9 186.5C359.0 185.8 364.8 183.2 370.3 183.1C375.8 183.0 381.7 188.2 386.0 186.0C390.3 183.8 397.2 176.7 396.0 170.0C394.8 163.3 384.0 148.2 379.0 146.0Z" fill="url(#blt5)" opacity="0.92"/>
<path d="M291.9 152.6C289.4 150.9 283.2 150.2 278.8 150.8C274.4 151.4 268.3 153.5 265.7 156.0C263.1 158.5 261.7 163.8 263.1 165.6C264.6 167.4 270.6 166.9 274.4 166.8C278.2 166.7 282.5 166.2 285.8 165.2C289.1 164.2 293.0 163.1 294.0 161.0C295.0 158.9 294.4 154.3 291.9 152.6Z" fill="#d257b6"/>
<path d="M268.0 159.0C269.2 157.5 274.5 154.5 278.0 154.0C281.5 153.5 288.3 154.8 289.0 156.0C289.7 157.2 285.0 159.8 282.0 161.0C279.0 162.2 273.3 163.3 271.0 163.0C268.7 162.7 266.8 160.5 268.0 159.0Z" fill="#f08ad6" opacity="0.6"/>
<path d="M377.0 172.0C378.0 167.9 389.6 164.9 395.0 164.0C400.4 163.1 405.3 162.7 409.3 166.3C413.3 169.9 414.9 178.5 418.9 185.5C422.9 192.5 428.2 200.8 433.2 208.2C438.2 215.6 443.8 223.8 448.8 229.8C453.8 235.8 459.7 240.4 463.2 244.1C466.7 247.8 470.9 249.0 470.0 252.0C469.1 255.0 461.9 262.7 458.0 262.0C454.1 261.3 450.3 252.7 446.4 247.7C442.5 242.7 438.6 237.6 434.4 232.2C430.2 226.8 426.1 220.2 421.3 215.4C416.5 210.6 411.1 207.9 405.7 203.4C400.3 198.9 393.8 193.7 389.0 188.5C384.2 183.3 376.0 176.1 377.0 172.0Z" fill="#0f4456"/>
<path d="M452.0 252.0C454.2 249.3 458.6 243.7 463.0 243.0C467.4 242.3 474.1 245.9 478.7 247.7C483.3 249.5 488.9 251.5 490.7 253.7C492.5 255.9 492.5 258.7 489.5 260.9C486.5 263.1 478.7 266.1 472.7 266.9C466.7 267.7 457.5 267.0 453.6 265.7C449.7 264.4 449.8 261.3 449.5 259.0C449.2 256.7 449.8 254.7 452.0 252.0Z" fill="#17788c"/>
<path d="M398.0 76.0C398.5 74.1 401.8 73.3 405.2 73.4C408.6 73.5 414.7 76.2 418.5 76.5C422.3 76.8 426.0 77.2 427.8 75.5C429.6 73.8 427.9 68.5 429.3 66.3C430.7 64.1 433.5 62.3 436.0 62.2C438.5 62.1 442.9 63.3 444.2 65.7C445.5 68.1 443.6 72.8 443.7 76.5C443.8 80.2 445.1 84.4 444.7 87.8C444.3 91.2 443.1 94.3 441.1 97.0C439.1 99.7 435.3 102.0 432.9 104.2C430.5 106.4 428.2 107.8 426.7 110.4C425.2 113.0 423.5 116.4 423.7 119.6C423.9 122.8 426.9 126.4 427.8 129.8C428.7 133.2 429.4 136.4 428.8 140.1C428.2 143.8 426.5 148.0 424.5 152.0C422.5 156.0 419.8 160.7 417.0 164.0C414.2 167.3 412.2 169.7 408.0 172.0C403.8 174.3 397.3 177.3 392.0 178.0C386.7 178.7 380.8 179.1 376.0 176.0C371.2 172.9 363.8 164.2 363.2 159.6C362.6 155.0 369.2 152.1 372.4 148.3C375.5 144.5 379.8 142.1 382.1 137.0C384.4 131.9 384.6 123.3 386.2 117.5C387.8 111.7 389.2 107.7 391.9 102.2C394.5 96.7 401.1 89.1 402.1 84.7C403.1 80.3 397.5 77.9 398.0 76.0Z" fill="url(#fgt5)"/>
</g>
<g filter="url(#b3t5)">
<path d="M434.0 82.0C432.3 83.2 431.8 88.3 429.0 92.0C426.2 95.7 420.7 100.5 417.0 104.0C413.3 107.5 408.3 110.0 407.0 113.0C405.7 116.0 407.7 119.0 409.0 122.0C410.3 125.0 413.2 127.8 415.0 131.0C416.8 134.2 419.7 137.5 420.0 141.0C420.3 144.5 418.3 148.5 417.0 152.0C415.7 155.5 412.2 160.0 412.0 162.0C411.8 164.0 414.2 165.5 416.0 164.0C417.8 162.5 421.2 156.8 423.0 153.0C424.8 149.2 426.5 144.8 427.0 141.0C427.5 137.2 426.8 133.5 426.0 130.0C425.2 126.5 422.2 123.3 422.0 120.0C421.8 116.7 423.5 112.8 425.0 110.0C426.5 107.2 428.8 105.5 431.0 103.0C433.2 100.5 436.7 98.0 438.0 95.0C439.3 92.0 439.7 87.2 439.0 85.0C438.3 82.8 435.7 80.8 434.0 82.0Z" fill="#1fb4cc"/>
<path d="M392.0 176.0C391.7 174.0 398.3 170.7 402.0 170.0C405.7 169.3 410.8 169.0 414.0 172.0C417.2 175.0 417.7 182.0 421.0 188.0C424.3 194.0 432.8 204.3 434.0 208.0C435.2 211.7 431.3 212.7 428.0 210.0C424.7 207.3 418.0 196.7 414.0 192.0C410.0 187.3 407.7 184.7 404.0 182.0C400.3 179.3 392.3 178.0 392.0 176.0Z" fill="#1c93aa" opacity="0.8"/>
<path d="M436.0 214.0C439.0 216.3 445.5 227.7 450.0 233.0C454.5 238.3 461.7 243.2 463.0 246.0C464.3 248.8 461.2 251.7 458.0 250.0C454.8 248.3 448.3 241.2 444.0 236.0C439.7 230.8 433.3 222.7 432.0 219.0C430.7 215.3 433.0 211.7 436.0 214.0Z" fill="#1c93aa" opacity="0.7"/>
<path d="M476.0 250.0C477.8 248.7 487.0 252.3 489.0 254.0C491.0 255.7 489.8 258.7 488.0 260.0C486.2 261.3 480.0 263.7 478.0 262.0C476.0 260.3 474.2 251.3 476.0 250.0Z" fill="#44bccb" opacity="0.85"/>
</g>
<g filter="url(#b1t5)"><path d="M428.0 90.0C425.7 91.2 421.8 99.2 419.0 103.0C416.2 106.8 411.8 109.5 411.0 113.0C410.2 116.5 412.5 120.5 414.0 124.0C415.5 127.5 418.5 130.8 420.0 134.0C421.5 137.2 423.2 139.5 423.0 143.0C422.8 146.5 418.8 154.2 419.0 155.0C419.2 155.8 423.0 151.2 424.0 148.0C425.0 144.8 425.7 140.0 425.0 136.0C424.3 132.0 421.0 127.7 420.0 124.0C419.0 120.3 418.0 117.2 419.0 114.0C420.0 110.8 423.7 108.0 426.0 105.0C428.3 102.0 432.7 98.5 433.0 96.0C433.3 93.5 430.3 88.8 428.0 90.0Z" fill="#48d0e6" opacity="0.7"/></g>
</svg>
<svg class="logo" viewBox="0 0 20 20" width="17" height="17"><circle cx="10" cy="10" r="9.6" fill="#fff"/><path d="M13.6 4.6 6.2 10.6l2 1.8M12.6 9.2 8.8 12.6l3.8 3" stroke="#222" stroke-width="2" fill="none" stroke-linecap="round" stroke-linejoin="round"/></svg>
<svg class="chev" style="left:340.5px;top:18.4px" viewBox="0 0 6 4" width="5" height="3.4"><path d="M.8.8 3 3 5.2.8" stroke="#eee" stroke-width="1.5" fill="none"/></svg>
<svg class="chev" style="left:406.5px;top:18.4px" viewBox="0 0 6 4" width="5" height="3.4"><path d="M.8.8 3 3 5.2.8" stroke="#eee" stroke-width="1.5" fill="none"/></svg>
<div class="srch"><svg viewBox="0 0 10 10" width="8" height="8"><circle cx="4.2" cy="4.2" r="3" stroke="#fff" stroke-width="1.2" fill="none"/><path d="M6.5 6.5 9 9" stroke="#fff" stroke-width="1.2" stroke-linecap="round"/></svg></div>
<div class="pill"></div>
<div class="btn"></div>
<div class="t" style="left:51.50px;top:15.40px;font-size:12.4px;letter-spacing:-0.148px;color:#fff;font-weight:700;">INCUBETA</div><div class="t" style="left:161.75px;top:18.21px;font-size:6.6px;letter-spacing:0.013px;color:#eee;font-weight:700;">SOLUTIONS</div><div class="t" style="left:216.05px;top:18.21px;font-size:6.6px;letter-spacing:0.082px;color:#eee;font-weight:700;">OUR WORK</div><div class="t" style="left:269.85px;top:18.21px;font-size:6.6px;letter-spacing:0.104px;color:#eee;font-weight:700;">ABOUT</div><div class="t" style="left:309.30px;top:18.21px;font-size:6.6px;letter-spacing:0.175px;color:#eee;font-weight:700;">FIND US</div><div class="t" style="left:361.60px;top:18.21px;font-size:6.6px;letter-spacing:-0.082px;color:#eee;font-weight:700;">RESOURCES</div><div class="t" style="left:460.45px;top:18.21px;font-size:6.6px;letter-spacing:-0.052px;color:#eee;font-weight:700;">CONTACT US</div><div class="t" style="left:33.15px;top:82.64px;font-size:26.56px;letter-spacing:1.660px;color:#fff;font-weight:700;-webkit-text-stroke:0.25px #222;">Outperform</div><div class="t" style="left:33.22px;top:115.24px;font-size:26.56px;letter-spacing:1.684px;color:#fff;font-weight:700;-webkit-text-stroke:0.25px #222;">Marketing</div><div class="t" style="left:33.00px;top:153.80px;font-size:7.8px;letter-spacing:0.097px;color:#dcdcdc;">Drive measurable outcomes with AI-powered marketing</div><div class="t" style="left:33.10px;top:164.50px;font-size:7.8px;letter-spacing:0.140px;color:#dcdcdc;">built for profitable growth.</div><div class="t" style="left:45.85px;top:197.30px;font-size:6.5px;letter-spacing:0.159px;color:#fff0e0;font-weight:700;">AI-POWERED SOLUTIONS</div><div class="t" style="left:159.20px;top:196.90px;font-size:6.5px;letter-spacing:-0.025px;color:#f0a050;font-weight:700;">DISCOVER THE RESULTS</div><div class="t" style="left:33.00px;top:276.52px;font-size:11.2px;letter-spacing:0.366px;color:#b4b4b4;">Average First Year Revenue Growth of</div><div class="t" style="left:243.39px;top:275.20px;font-size:13.0px;letter-spacing:0.804px;color:#e6a25e;">0%</div>
</div></div></div><div class="fr dk" style="left:1357.7px"><div class="thumb"><div class="site"><svg class="art" viewBox="0 0 549 308" width="549" height="308">
<defs>
<radialGradient id="glt6"><stop offset="0" stop-color="#4a0ee8"/><stop offset="0.5" stop-color="#4a0ee8" stop-opacity="0.97"/><stop offset="0.63" stop-color="#490fe0" stop-opacity="0.75"/><stop offset="0.76" stop-color="#4710c8" stop-opacity="0.4"/><stop offset="0.88" stop-color="#4410b0" stop-opacity="0.12"/><stop offset="1" stop-color="#4010a0" stop-opacity="0"/></radialGradient>
<radialGradient id="gmt6"><stop offset="0" stop-color="#a01c8c" stop-opacity="0.7"/><stop offset="0.6" stop-color="#a01c8c" stop-opacity="0.65"/><stop offset="0.76" stop-color="#981a88" stop-opacity="0.4"/><stop offset="0.9" stop-color="#901880" stop-opacity="0.1"/><stop offset="1" stop-color="#901880" stop-opacity="0"/></radialGradient>
<radialGradient id="gut6"><stop offset="0" stop-color="#5a1a98" stop-opacity="0.7"/><stop offset="0.5" stop-color="#5a1a98" stop-opacity="0.5"/><stop offset="1" stop-color="#5a1a98" stop-opacity="0"/></radialGradient>
<radialGradient id="got6"><stop offset="0" stop-color="#4a0ee8" stop-opacity="0.92"/><stop offset="0.4" stop-color="#4a0ee8" stop-opacity="0.8"/><stop offset="0.7" stop-color="#4a0ee8" stop-opacity="0.35"/><stop offset="1" stop-color="#4a0ee8" stop-opacity="0"/></radialGradient>
<linearGradient id="obt6" x1="0.12" y1="0.88" x2="0.92" y2="0.12"><stop offset="0" stop-color="#4a0eea"/><stop offset="0.36" stop-color="#6d26e8"/><stop offset="0.56" stop-color="#d24cae"/><stop offset="0.74" stop-color="#ef4f8c"/><stop offset="0.9" stop-color="#f0607a"/><stop offset="1" stop-color="#f0663c"/></linearGradient>
<radialGradient id="oht6" cx="0.34" cy="0.16" r="0.42"><stop offset="0" stop-color="#dc64c4" stop-opacity="1"/><stop offset="0.55" stop-color="#c058d4" stop-opacity="0.7"/><stop offset="1" stop-color="#9a48e0" stop-opacity="0"/></radialGradient>
<radialGradient id="opt6" cx="0.86" cy="0.2" r="0.4"><stop offset="0" stop-color="#f0663a" stop-opacity="0.95"/><stop offset="1" stop-color="#f0607a" stop-opacity="0"/></radialGradient>
<radialGradient id="oqt6" cx="0.78" cy="0.86" r="0.38"><stop offset="0" stop-color="#c050cc" stop-opacity="0.9"/><stop offset="1" stop-color="#c050cc" stop-opacity="0"/></radialGradient>
<radialGradient id="ort6" cx="0.42" cy="0.3" r="0.74"><stop offset="0.9" stop-color="#b860f0" stop-opacity="0"/><stop offset="1" stop-color="#c070f0" stop-opacity="0.95"/></radialGradient>
<linearGradient id="fgt6" x1="0" y1="0" x2="1" y2="0.3"><stop offset="0" stop-color="#0b2d3b"/><stop offset="0.45" stop-color="#114f62"/><stop offset="1" stop-color="#0d3a4a"/></linearGradient>
<linearGradient id="blt6" x1="0" y1="0" x2="1" y2="0"><stop offset="0" stop-color="#6a4a94"/><stop offset="0.6" stop-color="#45357c"/><stop offset="1" stop-color="#15304a"/></linearGradient>
<filter id="b1t6" x="-10%" y="-10%" width="120%" height="120%"><feGaussianBlur stdDeviation="0.9"/></filter>
<filter id="b3t6" x="-50%" y="-50%" width="200%" height="200%"><feGaussianBlur stdDeviation="2.2"/></filter>
</defs>
<ellipse cx="342" cy="220" rx="80" ry="58" fill="url(#gmt6)"/>
<ellipse cx="398" cy="250" rx="64" ry="24" fill="url(#gut6)"/>
<ellipse cx="346" cy="205" rx="80" ry="62" fill="url(#glt6)"/>
<circle cx="401.9" cy="162.4" r="85" fill="url(#obt6)"/>
<circle cx="401.9" cy="162.4" r="85" fill="url(#oht6)"/>
<circle cx="401.9" cy="162.4" r="85" fill="url(#opt6)"/>
<circle cx="401.9" cy="162.4" r="85" fill="url(#oqt6)"/>
<circle cx="401.9" cy="162.4" r="85" fill="url(#ort6)"/>
<ellipse cx="352" cy="218" rx="58" ry="46" fill="url(#got6)"/>
<g filter="url(#b1t6)">
<path d="M379.0 146.0C374.0 143.8 369.2 153.9 366.0 157.0C362.8 160.1 363.4 162.2 359.8 164.8C356.2 167.4 348.2 171.4 344.1 172.6C340.0 173.8 340.5 173.4 335.4 171.7C330.3 169.9 320.1 163.8 313.6 162.1C307.1 160.4 300.6 161.2 296.2 161.3C291.8 161.5 287.0 161.6 287.0 163.0C287.0 164.4 291.8 167.7 296.2 170.0C300.6 172.3 307.4 174.1 313.6 177.0C319.9 179.9 327.1 185.8 333.7 187.4C340.2 189.0 346.8 187.2 352.9 186.5C359.0 185.8 364.8 183.2 370.3 183.1C375.8 183.0 381.7 188.2 386.0 186.0C390.3 183.8 397.2 176.7 396.0 170.0C394.8 163.3 384.0 148.2 379.0 146.0Z" fill="url(#blt6)" opacity="0.92"/>
<path d="M291.9 152.6C289.4 150.9 283.2 150.2 278.8 150.8C274.4 151.4 268.3 153.5 265.7 156.0C263.1 158.5 261.7 163.8 263.1 165.6C264.6 167.4 270.6 166.9 274.4 166.8C278.2 166.7 282.5 166.2 285.8 165.2C289.1 164.2 293.0 163.1 294.0 161.0C295.0 158.9 294.4 154.3 291.9 152.6Z" fill="#d257b6"/>
<path d="M268.0 159.0C269.2 157.5 274.5 154.5 278.0 154.0C281.5 153.5 288.3 154.8 289.0 156.0C289.7 157.2 285.0 159.8 282.0 161.0C279.0 162.2 273.3 163.3 271.0 163.0C268.7 162.7 266.8 160.5 268.0 159.0Z" fill="#f08ad6" opacity="0.6"/>
<path d="M377.0 172.0C378.0 167.9 389.6 164.9 395.0 164.0C400.4 163.1 405.3 162.7 409.3 166.3C413.3 169.9 414.9 178.5 418.9 185.5C422.9 192.5 428.2 200.8 433.2 208.2C438.2 215.6 443.8 223.8 448.8 229.8C453.8 235.8 459.7 240.4 463.2 244.1C466.7 247.8 470.9 249.0 470.0 252.0C469.1 255.0 461.9 262.7 458.0 262.0C454.1 261.3 450.3 252.7 446.4 247.7C442.5 242.7 438.6 237.6 434.4 232.2C430.2 226.8 426.1 220.2 421.3 215.4C416.5 210.6 411.1 207.9 405.7 203.4C400.3 198.9 393.8 193.7 389.0 188.5C384.2 183.3 376.0 176.1 377.0 172.0Z" fill="#0f4456"/>
<path d="M452.0 252.0C454.2 249.3 458.6 243.7 463.0 243.0C467.4 242.3 474.1 245.9 478.7 247.7C483.3 249.5 488.9 251.5 490.7 253.7C492.5 255.9 492.5 258.7 489.5 260.9C486.5 263.1 478.7 266.1 472.7 266.9C466.7 267.7 457.5 267.0 453.6 265.7C449.7 264.4 449.8 261.3 449.5 259.0C449.2 256.7 449.8 254.7 452.0 252.0Z" fill="#17788c"/>
<path d="M398.0 76.0C398.5 74.1 401.8 73.3 405.2 73.4C408.6 73.5 414.7 76.2 418.5 76.5C422.3 76.8 426.0 77.2 427.8 75.5C429.6 73.8 427.9 68.5 429.3 66.3C430.7 64.1 433.5 62.3 436.0 62.2C438.5 62.1 442.9 63.3 444.2 65.7C445.5 68.1 443.6 72.8 443.7 76.5C443.8 80.2 445.1 84.4 444.7 87.8C444.3 91.2 443.1 94.3 441.1 97.0C439.1 99.7 435.3 102.0 432.9 104.2C430.5 106.4 428.2 107.8 426.7 110.4C425.2 113.0 423.5 116.4 423.7 119.6C423.9 122.8 426.9 126.4 427.8 129.8C428.7 133.2 429.4 136.4 428.8 140.1C428.2 143.8 426.5 148.0 424.5 152.0C422.5 156.0 419.8 160.7 417.0 164.0C414.2 167.3 412.2 169.7 408.0 172.0C403.8 174.3 397.3 177.3 392.0 178.0C386.7 178.7 380.8 179.1 376.0 176.0C371.2 172.9 363.8 164.2 363.2 159.6C362.6 155.0 369.2 152.1 372.4 148.3C375.5 144.5 379.8 142.1 382.1 137.0C384.4 131.9 384.6 123.3 386.2 117.5C387.8 111.7 389.2 107.7 391.9 102.2C394.5 96.7 401.1 89.1 402.1 84.7C403.1 80.3 397.5 77.9 398.0 76.0Z" fill="url(#fgt6)"/>
</g>
<g filter="url(#b3t6)">
<path d="M434.0 82.0C432.3 83.2 431.8 88.3 429.0 92.0C426.2 95.7 420.7 100.5 417.0 104.0C413.3 107.5 408.3 110.0 407.0 113.0C405.7 116.0 407.7 119.0 409.0 122.0C410.3 125.0 413.2 127.8 415.0 131.0C416.8 134.2 419.7 137.5 420.0 141.0C420.3 144.5 418.3 148.5 417.0 152.0C415.7 155.5 412.2 160.0 412.0 162.0C411.8 164.0 414.2 165.5 416.0 164.0C417.8 162.5 421.2 156.8 423.0 153.0C424.8 149.2 426.5 144.8 427.0 141.0C427.5 137.2 426.8 133.5 426.0 130.0C425.2 126.5 422.2 123.3 422.0 120.0C421.8 116.7 423.5 112.8 425.0 110.0C426.5 107.2 428.8 105.5 431.0 103.0C433.2 100.5 436.7 98.0 438.0 95.0C439.3 92.0 439.7 87.2 439.0 85.0C438.3 82.8 435.7 80.8 434.0 82.0Z" fill="#1fb4cc"/>
<path d="M392.0 176.0C391.7 174.0 398.3 170.7 402.0 170.0C405.7 169.3 410.8 169.0 414.0 172.0C417.2 175.0 417.7 182.0 421.0 188.0C424.3 194.0 432.8 204.3 434.0 208.0C435.2 211.7 431.3 212.7 428.0 210.0C424.7 207.3 418.0 196.7 414.0 192.0C410.0 187.3 407.7 184.7 404.0 182.0C400.3 179.3 392.3 178.0 392.0 176.0Z" fill="#1c93aa" opacity="0.8"/>
<path d="M436.0 214.0C439.0 216.3 445.5 227.7 450.0 233.0C454.5 238.3 461.7 243.2 463.0 246.0C464.3 248.8 461.2 251.7 458.0 250.0C454.8 248.3 448.3 241.2 444.0 236.0C439.7 230.8 433.3 222.7 432.0 219.0C430.7 215.3 433.0 211.7 436.0 214.0Z" fill="#1c93aa" opacity="0.7"/>
<path d="M476.0 250.0C477.8 248.7 487.0 252.3 489.0 254.0C491.0 255.7 489.8 258.7 488.0 260.0C486.2 261.3 480.0 263.7 478.0 262.0C476.0 260.3 474.2 251.3 476.0 250.0Z" fill="#44bccb" opacity="0.85"/>
</g>
<g filter="url(#b1t6)"><path d="M428.0 90.0C425.7 91.2 421.8 99.2 419.0 103.0C416.2 106.8 411.8 109.5 411.0 113.0C410.2 116.5 412.5 120.5 414.0 124.0C415.5 127.5 418.5 130.8 420.0 134.0C421.5 137.2 423.2 139.5 423.0 143.0C422.8 146.5 418.8 154.2 419.0 155.0C419.2 155.8 423.0 151.2 424.0 148.0C425.0 144.8 425.7 140.0 425.0 136.0C424.3 132.0 421.0 127.7 420.0 124.0C419.0 120.3 418.0 117.2 419.0 114.0C420.0 110.8 423.7 108.0 426.0 105.0C428.3 102.0 432.7 98.5 433.0 96.0C433.3 93.5 430.3 88.8 428.0 90.0Z" fill="#48d0e6" opacity="0.7"/></g>
</svg>
<svg class="logo" viewBox="0 0 20 20" width="17" height="17"><circle cx="10" cy="10" r="9.6" fill="#fff"/><path d="M13.6 4.6 6.2 10.6l2 1.8M12.6 9.2 8.8 12.6l3.8 3" stroke="#222" stroke-width="2" fill="none" stroke-linecap="round" stroke-linejoin="round"/></svg>
<svg class="chev" style="left:340.5px;top:18.4px" viewBox="0 0 6 4" width="5" height="3.4"><path d="M.8.8 3 3 5.2.8" stroke="#eee" stroke-width="1.5" fill="none"/></svg>
<svg class="chev" style="left:406.5px;top:18.4px" viewBox="0 0 6 4" width="5" height="3.4"><path d="M.8.8 3 3 5.2.8" stroke="#eee" stroke-width="1.5" fill="none"/></svg>
<div class="srch"><svg viewBox="0 0 10 10" width="8" height="8"><circle cx="4.2" cy="4.2" r="3" stroke="#fff" stroke-width="1.2" fill="none"/><path d="M6.5 6.5 9 9" stroke="#fff" stroke-width="1.2" stroke-linecap="round"/></svg></div>
<div class="pill"></div>
<div class="btn"></div>
<div class="t" style="left:51.50px;top:15.40px;font-size:12.4px;letter-spacing:-0.148px;color:#fff;font-weight:700;">INCUBETA</div><div class="t" style="left:161.75px;top:18.21px;font-size:6.6px;letter-spacing:0.013px;color:#eee;font-weight:700;">SOLUTIONS</div><div class="t" style="left:216.05px;top:18.21px;font-size:6.6px;letter-spacing:0.082px;color:#eee;font-weight:700;">OUR WORK</div><div class="t" style="left:269.85px;top:18.21px;font-size:6.6px;letter-spacing:0.104px;color:#eee;font-weight:700;">ABOUT</div><div class="t" style="left:309.30px;top:18.21px;font-size:6.6px;letter-spacing:0.175px;color:#eee;font-weight:700;">FIND US</div><div class="t" style="left:361.60px;top:18.21px;font-size:6.6px;letter-spacing:-0.082px;color:#eee;font-weight:700;">RESOURCES</div><div class="t" style="left:460.45px;top:18.21px;font-size:6.6px;letter-spacing:-0.052px;color:#eee;font-weight:700;">CONTACT US</div><div class="t" style="left:33.15px;top:82.64px;font-size:26.56px;letter-spacing:1.660px;color:#fff;font-weight:700;-webkit-text-stroke:0.25px #222;">Outperform</div><div class="t" style="left:33.22px;top:115.24px;font-size:26.56px;letter-spacing:1.684px;color:#fff;font-weight:700;-webkit-text-stroke:0.25px #222;">Marketing</div><div class="t" style="left:33.00px;top:153.80px;font-size:7.8px;letter-spacing:0.097px;color:#dcdcdc;">Drive measurable outcomes with AI-powered marketing</div><div class="t" style="left:33.10px;top:164.50px;font-size:7.8px;letter-spacing:0.140px;color:#dcdcdc;">built for profitable growth.</div><div class="t" style="left:45.85px;top:197.30px;font-size:6.5px;letter-spacing:0.159px;color:#fff0e0;font-weight:700;">AI-POWERED SOLUTIONS</div><div class="t" style="left:159.20px;top:196.90px;font-size:6.5px;letter-spacing:-0.025px;color:#f0a050;font-weight:700;">DISCOVER THE RESULTS</div><div class="t" style="left:33.00px;top:276.52px;font-size:11.2px;letter-spacing:0.366px;color:#b4b4b4;">Average First Year Revenue Growth of</div><div class="t" style="left:243.39px;top:275.20px;font-size:13.0px;letter-spacing:0.804px;color:#e6a25e;">0%</div>
</div></div></div><div class="fr dk" style="left:1576.5px"><div class="thumb"><div class="site"><svg class="art" viewBox="0 0 549 308" width="549" height="308">
<defs>
<radialGradient id="glt7"><stop offset="0" stop-color="#4a0ee8"/><stop offset="0.5" stop-color="#4a0ee8" stop-opacity="0.97"/><stop offset="0.63" stop-color="#490fe0" stop-opacity="0.75"/><stop offset="0.76" stop-color="#4710c8" stop-opacity="0.4"/><stop offset="0.88" stop-color="#4410b0" stop-opacity="0.12"/><stop offset="1" stop-color="#4010a0" stop-opacity="0"/></radialGradient>
<radialGradient id="gmt7"><stop offset="0" stop-color="#a01c8c" stop-opacity="0.7"/><stop offset="0.6" stop-color="#a01c8c" stop-opacity="0.65"/><stop offset="0.76" stop-color="#981a88" stop-opacity="0.4"/><stop offset="0.9" stop-color="#901880" stop-opacity="0.1"/><stop offset="1" stop-color="#901880" stop-opacity="0"/></radialGradient>
<radialGradient id="gut7"><stop offset="0" stop-color="#5a1a98" stop-opacity="0.7"/><stop offset="0.5" stop-color="#5a1a98" stop-opacity="0.5"/><stop offset="1" stop-color="#5a1a98" stop-opacity="0"/></radialGradient>
<radialGradient id="got7"><stop offset="0" stop-color="#4a0ee8" stop-opacity="0.92"/><stop offset="0.4" stop-color="#4a0ee8" stop-opacity="0.8"/><stop offset="0.7" stop-color="#4a0ee8" stop-opacity="0.35"/><stop offset="1" stop-color="#4a0ee8" stop-opacity="0"/></radialGradient>
<linearGradient id="obt7" x1="0.12" y1="0.88" x2="0.92" y2="0.12"><stop offset="0" stop-color="#4a0eea"/><stop offset="0.36" stop-color="#6d26e8"/><stop offset="0.56" stop-color="#d24cae"/><stop offset="0.74" stop-color="#ef4f8c"/><stop offset="0.9" stop-color="#f0607a"/><stop offset="1" stop-color="#f0663c"/></linearGradient>
<radialGradient id="oht7" cx="0.34" cy="0.16" r="0.42"><stop offset="0" stop-color="#dc64c4" stop-opacity="1"/><stop offset="0.55" stop-color="#c058d4" stop-opacity="0.7"/><stop offset="1" stop-color="#9a48e0" stop-opacity="0"/></radialGradient>
<radialGradient id="opt7" cx="0.86" cy="0.2" r="0.4"><stop offset="0" stop-color="#f0663a" stop-opacity="0.95"/><stop offset="1" stop-color="#f0607a" stop-opacity="0"/></radialGradient>
<radialGradient id="oqt7" cx="0.78" cy="0.86" r="0.38"><stop offset="0" stop-color="#c050cc" stop-opacity="0.9"/><stop offset="1" stop-color="#c050cc" stop-opacity="0"/></radialGradient>
<radialGradient id="ort7" cx="0.42" cy="0.3" r="0.74"><stop offset="0.9" stop-color="#b860f0" stop-opacity="0"/><stop offset="1" stop-color="#c070f0" stop-opacity="0.95"/></radialGradient>
<linearGradient id="fgt7" x1="0" y1="0" x2="1" y2="0.3"><stop offset="0" stop-color="#0b2d3b"/><stop offset="0.45" stop-color="#114f62"/><stop offset="1" stop-color="#0d3a4a"/></linearGradient>
<linearGradient id="blt7" x1="0" y1="0" x2="1" y2="0"><stop offset="0" stop-color="#6a4a94"/><stop offset="0.6" stop-color="#45357c"/><stop offset="1" stop-color="#15304a"/></linearGradient>
<filter id="b1t7" x="-10%" y="-10%" width="120%" height="120%"><feGaussianBlur stdDeviation="0.9"/></filter>
<filter id="b3t7" x="-50%" y="-50%" width="200%" height="200%"><feGaussianBlur stdDeviation="2.2"/></filter>
</defs>
<ellipse cx="342" cy="220" rx="80" ry="58" fill="url(#gmt7)"/>
<ellipse cx="398" cy="250" rx="64" ry="24" fill="url(#gut7)"/>
<ellipse cx="346" cy="205" rx="80" ry="62" fill="url(#glt7)"/>
<circle cx="401.9" cy="162.4" r="85" fill="url(#obt7)"/>
<circle cx="401.9" cy="162.4" r="85" fill="url(#oht7)"/>
<circle cx="401.9" cy="162.4" r="85" fill="url(#opt7)"/>
<circle cx="401.9" cy="162.4" r="85" fill="url(#oqt7)"/>
<circle cx="401.9" cy="162.4" r="85" fill="url(#ort7)"/>
<ellipse cx="352" cy="218" rx="58" ry="46" fill="url(#got7)"/>
<g filter="url(#b1t7)">
<path d="M379.0 146.0C374.0 143.8 369.2 153.9 366.0 157.0C362.8 160.1 363.4 162.2 359.8 164.8C356.2 167.4 348.2 171.4 344.1 172.6C340.0 173.8 340.5 173.4 335.4 171.7C330.3 169.9 320.1 163.8 313.6 162.1C307.1 160.4 300.6 161.2 296.2 161.3C291.8 161.5 287.0 161.6 287.0 163.0C287.0 164.4 291.8 167.7 296.2 170.0C300.6 172.3 307.4 174.1 313.6 177.0C319.9 179.9 327.1 185.8 333.7 187.4C340.2 189.0 346.8 187.2 352.9 186.5C359.0 185.8 364.8 183.2 370.3 183.1C375.8 183.0 381.7 188.2 386.0 186.0C390.3 183.8 397.2 176.7 396.0 170.0C394.8 163.3 384.0 148.2 379.0 146.0Z" fill="url(#blt7)" opacity="0.92"/>
<path d="M291.9 152.6C289.4 150.9 283.2 150.2 278.8 150.8C274.4 151.4 268.3 153.5 265.7 156.0C263.1 158.5 261.7 163.8 263.1 165.6C264.6 167.4 270.6 166.9 274.4 166.8C278.2 166.7 282.5 166.2 285.8 165.2C289.1 164.2 293.0 163.1 294.0 161.0C295.0 158.9 294.4 154.3 291.9 152.6Z" fill="#d257b6"/>
<path d="M268.0 159.0C269.2 157.5 274.5 154.5 278.0 154.0C281.5 153.5 288.3 154.8 289.0 156.0C289.7 157.2 285.0 159.8 282.0 161.0C279.0 162.2 273.3 163.3 271.0 163.0C268.7 162.7 266.8 160.5 268.0 159.0Z" fill="#f08ad6" opacity="0.6"/>
<path d="M377.0 172.0C378.0 167.9 389.6 164.9 395.0 164.0C400.4 163.1 405.3 162.7 409.3 166.3C413.3 169.9 414.9 178.5 418.9 185.5C422.9 192.5 428.2 200.8 433.2 208.2C438.2 215.6 443.8 223.8 448.8 229.8C453.8 235.8 459.7 240.4 463.2 244.1C466.7 247.8 470.9 249.0 470.0 252.0C469.1 255.0 461.9 262.7 458.0 262.0C454.1 261.3 450.3 252.7 446.4 247.7C442.5 242.7 438.6 237.6 434.4 232.2C430.2 226.8 426.1 220.2 421.3 215.4C416.5 210.6 411.1 207.9 405.7 203.4C400.3 198.9 393.8 193.7 389.0 188.5C384.2 183.3 376.0 176.1 377.0 172.0Z" fill="#0f4456"/>
<path d="M452.0 252.0C454.2 249.3 458.6 243.7 463.0 243.0C467.4 242.3 474.1 245.9 478.7 247.7C483.3 249.5 488.9 251.5 490.7 253.7C492.5 255.9 492.5 258.7 489.5 260.9C486.5 263.1 478.7 266.1 472.7 266.9C466.7 267.7 457.5 267.0 453.6 265.7C449.7 264.4 449.8 261.3 449.5 259.0C449.2 256.7 449.8 254.7 452.0 252.0Z" fill="#17788c"/>
<path d="M398.0 76.0C398.5 74.1 401.8 73.3 405.2 73.4C408.6 73.5 414.7 76.2 418.5 76.5C422.3 76.8 426.0 77.2 427.8 75.5C429.6 73.8 427.9 68.5 429.3 66.3C430.7 64.1 433.5 62.3 436.0 62.2C438.5 62.1 442.9 63.3 444.2 65.7C445.5 68.1 443.6 72.8 443.7 76.5C443.8 80.2 445.1 84.4 444.7 87.8C444.3 91.2 443.1 94.3 441.1 97.0C439.1 99.7 435.3 102.0 432.9 104.2C430.5 106.4 428.2 107.8 426.7 110.4C425.2 113.0 423.5 116.4 423.7 119.6C423.9 122.8 426.9 126.4 427.8 129.8C428.7 133.2 429.4 136.4 428.8 140.1C428.2 143.8 426.5 148.0 424.5 152.0C422.5 156.0 419.8 160.7 417.0 164.0C414.2 167.3 412.2 169.7 408.0 172.0C403.8 174.3 397.3 177.3 392.0 178.0C386.7 178.7 380.8 179.1 376.0 176.0C371.2 172.9 363.8 164.2 363.2 159.6C362.6 155.0 369.2 152.1 372.4 148.3C375.5 144.5 379.8 142.1 382.1 137.0C384.4 131.9 384.6 123.3 386.2 117.5C387.8 111.7 389.2 107.7 391.9 102.2C394.5 96.7 401.1 89.1 402.1 84.7C403.1 80.3 397.5 77.9 398.0 76.0Z" fill="url(#fgt7)"/>
</g>
<g filter="url(#b3t7)">
<path d="M434.0 82.0C432.3 83.2 431.8 88.3 429.0 92.0C426.2 95.7 420.7 100.5 417.0 104.0C413.3 107.5 408.3 110.0 407.0 113.0C405.7 116.0 407.7 119.0 409.0 122.0C410.3 125.0 413.2 127.8 415.0 131.0C416.8 134.2 419.7 137.5 420.0 141.0C420.3 144.5 418.3 148.5 417.0 152.0C415.7 155.5 412.2 160.0 412.0 162.0C411.8 164.0 414.2 165.5 416.0 164.0C417.8 162.5 421.2 156.8 423.0 153.0C424.8 149.2 426.5 144.8 427.0 141.0C427.5 137.2 426.8 133.5 426.0 130.0C425.2 126.5 422.2 123.3 422.0 120.0C421.8 116.7 423.5 112.8 425.0 110.0C426.5 107.2 428.8 105.5 431.0 103.0C433.2 100.5 436.7 98.0 438.0 95.0C439.3 92.0 439.7 87.2 439.0 85.0C438.3 82.8 435.7 80.8 434.0 82.0Z" fill="#1fb4cc"/>
<path d="M392.0 176.0C391.7 174.0 398.3 170.7 402.0 170.0C405.7 169.3 410.8 169.0 414.0 172.0C417.2 175.0 417.7 182.0 421.0 188.0C424.3 194.0 432.8 204.3 434.0 208.0C435.2 211.7 431.3 212.7 428.0 210.0C424.7 207.3 418.0 196.7 414.0 192.0C410.0 187.3 407.7 184.7 404.0 182.0C400.3 179.3 392.3 178.0 392.0 176.0Z" fill="#1c93aa" opacity="0.8"/>
<path d="M436.0 214.0C439.0 216.3 445.5 227.7 450.0 233.0C454.5 238.3 461.7 243.2 463.0 246.0C464.3 248.8 461.2 251.7 458.0 250.0C454.8 248.3 448.3 241.2 444.0 236.0C439.7 230.8 433.3 222.7 432.0 219.0C430.7 215.3 433.0 211.7 436.0 214.0Z" fill="#1c93aa" opacity="0.7"/>
<path d="M476.0 250.0C477.8 248.7 487.0 252.3 489.0 254.0C491.0 255.7 489.8 258.7 488.0 260.0C486.2 261.3 480.0 263.7 478.0 262.0C476.0 260.3 474.2 251.3 476.0 250.0Z" fill="#44bccb" opacity="0.85"/>
</g>
<g filter="url(#b1t7)"><path d="M428.0 90.0C425.7 91.2 421.8 99.2 419.0 103.0C416.2 106.8 411.8 109.5 411.0 113.0C410.2 116.5 412.5 120.5 414.0 124.0C415.5 127.5 418.5 130.8 420.0 134.0C421.5 137.2 423.2 139.5 423.0 143.0C422.8 146.5 418.8 154.2 419.0 155.0C419.2 155.8 423.0 151.2 424.0 148.0C425.0 144.8 425.7 140.0 425.0 136.0C424.3 132.0 421.0 127.7 420.0 124.0C419.0 120.3 418.0 117.2 419.0 114.0C420.0 110.8 423.7 108.0 426.0 105.0C428.3 102.0 432.7 98.5 433.0 96.0C433.3 93.5 430.3 88.8 428.0 90.0Z" fill="#48d0e6" opacity="0.7"/></g>
</svg>
<svg class="logo" viewBox="0 0 20 20" width="17" height="17"><circle cx="10" cy="10" r="9.6" fill="#fff"/><path d="M13.6 4.6 6.2 10.6l2 1.8M12.6 9.2 8.8 12.6l3.8 3" stroke="#222" stroke-width="2" fill="none" stroke-linecap="round" stroke-linejoin="round"/></svg>
<svg class="chev" style="left:340.5px;top:18.4px" viewBox="0 0 6 4" width="5" height="3.4"><path d="M.8.8 3 3 5.2.8" stroke="#eee" stroke-width="1.5" fill="none"/></svg>
<svg class="chev" style="left:406.5px;top:18.4px" viewBox="0 0 6 4" width="5" height="3.4"><path d="M.8.8 3 3 5.2.8" stroke="#eee" stroke-width="1.5" fill="none"/></svg>
<div class="srch"><svg viewBox="0 0 10 10" width="8" height="8"><circle cx="4.2" cy="4.2" r="3" stroke="#fff" stroke-width="1.2" fill="none"/><path d="M6.5 6.5 9 9" stroke="#fff" stroke-width="1.2" stroke-linecap="round"/></svg></div>
<div class="pill"></div>
<div class="btn"></div>
<div class="t" style="left:51.50px;top:15.40px;font-size:12.4px;letter-spacing:-0.148px;color:#fff;font-weight:700;">INCUBETA</div><div class="t" style="left:161.75px;top:18.21px;font-size:6.6px;letter-spacing:0.013px;color:#eee;font-weight:700;">SOLUTIONS</div><div class="t" style="left:216.05px;top:18.21px;font-size:6.6px;letter-spacing:0.082px;color:#eee;font-weight:700;">OUR WORK</div><div class="t" style="left:269.85px;top:18.21px;font-size:6.6px;letter-spacing:0.104px;color:#eee;font-weight:700;">ABOUT</div><div class="t" style="left:309.30px;top:18.21px;font-size:6.6px;letter-spacing:0.175px;color:#eee;font-weight:700;">FIND US</div><div class="t" style="left:361.60px;top:18.21px;font-size:6.6px;letter-spacing:-0.082px;color:#eee;font-weight:700;">RESOURCES</div><div class="t" style="left:460.45px;top:18.21px;font-size:6.6px;letter-spacing:-0.052px;color:#eee;font-weight:700;">CONTACT US</div><div class="t" style="left:33.15px;top:82.64px;font-size:26.56px;letter-spacing:1.660px;color:#fff;font-weight:700;-webkit-text-stroke:0.25px #222;">Outperform</div><div class="t" style="left:33.22px;top:115.24px;font-size:26.56px;letter-spacing:1.684px;color:#fff;font-weight:700;-webkit-text-stroke:0.25px #222;">Marketing</div><div class="t" style="left:33.00px;top:153.80px;font-size:7.8px;letter-spacing:0.097px;color:#dcdcdc;">Drive measurable outcomes with AI-powered marketing</div><div class="t" style="left:33.10px;top:164.50px;font-size:7.8px;letter-spacing:0.140px;color:#dcdcdc;">built for profitable growth.</div><div class="t" style="left:45.85px;top:197.30px;font-size:6.5px;letter-spacing:0.159px;color:#fff0e0;font-weight:700;">AI-POWERED SOLUTIONS</div><div class="t" style="left:159.20px;top:196.90px;font-size:6.5px;letter-spacing:-0.025px;color:#f0a050;font-weight:700;">DISCOVER THE RESULTS</div><div class="t" style="left:33.00px;top:276.52px;font-size:11.2px;letter-spacing:0.366px;color:#b4b4b4;">Average First Year Revenue Growth of</div><div class="t" style="left:243.39px;top:275.20px;font-size:13.0px;letter-spacing:0.804px;color:#e6a25e;">0%</div>
</div></div></div>
<div class="ln" style="left:43.3px;top:733.5px;width:2.7px;height:142px;background:#8797cb"></div>
<div class="lb" style="left:43.3px;top:873px;width:147px;height:34.5px;background:#8797cb;border-radius:0 6px 0 0"></div>
<div class="lb" style="left:43.3px;top:907.3px;width:147px;height:83.7px;background:#efefef;border-radius:0 0 6px 6px"></div>
<div class="ln" style="left:762px;top:733.5px;width:3.4px;height:215px;background:#3f7fe4"></div>
<div class="lb" style="left:762px;top:873.3px;width:310.5px;background:#2db5f1;border-radius:0 7px 7px 0"></div>
<div class="lb" style="left:762px;top:925px;width:341px;background:#3f7fe4;border-radius:0 7px 7px 7px"></div>
<div class="ln" style="left:1591px;top:733.5px;width:3.4px;height:145px;background:#b273d3"></div>
<div class="lb" style="left:1304.2px;top:873.3px;width:290.2px;background:#b273d3;border-radius:7px 0 7px 7px"></div>
<div class="ln" style="left:1628.4px;top:733.5px;width:3.4px;height:197px;background:#b0648e"></div>
<div class="lb" style="left:1398.7px;top:924.8px;width:233.1px;background:#b0648e;border-radius:7px 0 7px 7px"></div>
<div class="ln" style="left:1647px;top:733.5px;width:3.4px;height:249px;background:#c1286d"></div>
<div class="lb" style="left:1366.3px;top:976.3px;width:284.1px;background:#c1286d;border-radius:7px 0 7px 7px"></div>
<div class="ph"><span class="t" style="left:677.51px;top:29.01px;font-size:61.3px;letter-spacing:-2.155px;color:#3b8fd8;">Performance</span> <span class="t" style="left:1022.61px;top:29.01px;font-size:61.3px;letter-spacing:-1.742px;color:#3b8fd8;">Report</span> <span class="t" style="left:1216.40px;top:29.01px;font-size:61.3px;letter-spacing:-0.043px;color:#3b8fd8;">for:</span></div><div class="t" style="left:679.62px;top:97.86px;font-size:46.0px;letter-spacing:-0.986px;color:#555;">https://incubeta.com/</div><div class="t" style="left:713.11px;top:201.10px;font-size:28.0px;letter-spacing:-0.187px;color:#555;">Report generated:</div><div class="t" style="left:683.06px;top:244.70px;font-size:28.0px;letter-spacing:-0.513px;color:#555;">Test Server Location:</div><div class="t" style="left:858.25px;top:287.70px;font-size:28.0px;letter-spacing:-0.357px;color:#555;">Using:</div><div class="ph"><span class="t" style="left:961.56px;top:201.10px;font-size:28.0px;letter-spacing:-0.720px;color:#999;">Tue,</span> <span class="t" style="left:1021.06px;top:201.10px;font-size:28.0px;letter-spacing:-1.017px;color:#999;">Jan</span> <span class="t" style="left:1072.89px;top:201.10px;font-size:28.0px;letter-spacing:-0.910px;color:#999;">27,</span> <span class="t" style="left:1118.09px;top:201.10px;font-size:28.0px;letter-spacing:0.986px;color:#999;">2026</span> <span class="t" style="left:1192.42px;top:201.10px;font-size:28.0px;letter-spacing:1.305px;color:#999;">5:29</span> <span class="t" style="left:1260.60px;top:201.10px;font-size:28.0px;letter-spacing:-0.913px;color:#999;">AM</span> <span class="t" style="left:1310.92px;top:201.10px;font-size:28.0px;letter-spacing:2.640px;color:#999;">-0800</span></div><div class="ph"><span class="t" style="left:1006.81px;top:244.70px;font-size:28.0px;letter-spacing:-0.372px;color:#999;">London,</span> <span class="t" style="left:1113.95px;top:244.70px;font-size:28.0px;letter-spacing:-0.746px;color:#999;">UK</span></div><div class="ph"><span class="t" style="left:1011.19px;top:287.70px;font-size:28.0px;letter-spacing:-0.408px;color:#999;">Chrome</span> <span class="t" style="left:1118.05px;top:287.70px;font-size:28.0px;letter-spacing:-0.190px;color:#999;">142.0.0.0,</span> <span class="t" style="left:1248.61px;top:287.70px;font-size:28.0px;letter-spacing:-0.687px;color:#999;">Lighthouse</span> <span class="t" style="left:1388.55px;top:287.70px;font-size:28.0px;letter-spacing:-2.273px;color:#999;">12.6.1</span></div><div class="t" style="left:340.19px;top:486.47px;font-size:29.24px;letter-spacing:-0.208px;color:#555;-webkit-text-stroke:0.45px #fff;">Performance</div><div class="t" style="left:339.65px;top:525.41px;font-size:76.83px;letter-spacing:-4.040px;color:#2ba41f;-webkit-text-stroke:1.7px #fff;">99%</div><div class="t" style="left:604.36px;top:486.47px;font-size:29.24px;letter-spacing:-0.249px;color:#555;-webkit-text-stroke:0.45px #fff;">Structure</div><div class="t" style="left:603.15px;top:525.41px;font-size:76.83px;letter-spacing:-4.090px;color:#2ba41f;-webkit-text-stroke:1.7px #fff;">99%</div><div class="t" style="left:899.19px;top:486.47px;font-size:29.24px;letter-spacing:0.124px;color:#555;-webkit-text-stroke:0.45px #fff;">L. Contentful Paint</div><div class="t" style="left:899.65px;top:525.54px;font-size:77.03px;letter-spacing:-3.747px;color:#3aa832;-webkit-text-stroke:1.7px #fff;">424ms</div><div class="t" style="left:1211.22px;top:486.47px;font-size:29.24px;letter-spacing:0.231px;color:#555;-webkit-text-stroke:0.45px #fff;">T. Blocking Time</div><div class="t" style="left:1212.84px;top:525.54px;font-size:77.03px;letter-spacing:-5.469px;color:#3aa832;-webkit-text-stroke:1.7px #fff;">109ms</div><div class="t" style="left:1520.10px;top:486.47px;font-size:29.24px;letter-spacing:0.065px;color:#555;-webkit-text-stroke:0.45px #fff;">C. Layout Shift</div><div class="t" style="left:1521.15px;top:525.41px;font-size:76.83px;letter-spacing:0.000px;color:#3aa832;-webkit-text-stroke:1.7px #fff;transform-origin:2.40px 0;transform:scaleX(1.1376);">0</div><div class="t" style="left:55.47px;top:881.37px;font-size:21.3px;letter-spacing:0.582px;color:#fff;">TTFB: 66ms</div><div class="t" style="left:56.05px;top:920.06px;font-size:16.0px;letter-spacing:0.605px;color:#666;">Redirect: 0ms</div><div class="t" style="left:56.55px;top:941.56px;font-size:16.0px;letter-spacing:0.653px;color:#666;">Connect: 31ms</div><div class="t" style="left:56.05px;top:965.06px;font-size:16.0px;letter-spacing:0.714px;color:#666;">Backend: 35ms</div><div class="t" style="left:773.44px;top:881.37px;font-size:21.3px;letter-spacing:0.485px;color:#fff;">First Contentful Paint: 424ms</div><div class="t" style="left:773.44px;top:933.37px;font-size:21.3px;letter-spacing:0.465px;color:#fff;">Largest Contentful Paint: 424ms</div><div class="t" style="left:1316.67px;top:881.37px;font-size:21.3px;letter-spacing:0.633px;color:#fff;">Time to Interactive: 835ms</div><div class="t" style="left:1409.80px;top:933.37px;font-size:21.3px;letter-spacing:0.774px;color:#fff;">Onload Time: 853ms</div><div class="t" style="left:1377.34px;top:984.97px;font-size:21.3px;letter-spacing:0.523px;color:#fff;">Fully Loaded Time: 863ms</div><div class="t" style="left:132.54px;top:696.81px;font-size:24.2px;letter-spacing:-1.676px;color:#666;">0.1s</div><div class="t" style="left:351.29px;top:696.81px;font-size:24.2px;letter-spacing:-1.676px;color:#666;">0.2s</div><div class="t" style="left:570.04px;top:696.81px;font-size:24.2px;letter-spacing:-1.676px;color:#666;">0.3s</div><div class="t" style="left:788.79px;top:696.81px;font-size:24.2px;letter-spacing:-1.676px;color:#666;">0.4s</div><div class="t" style="left:1007.54px;top:696.81px;font-size:24.2px;letter-spacing:-1.676px;color:#666;">0.5s</div><div class="t" style="left:1226.29px;top:696.81px;font-size:24.2px;letter-spacing:-1.676px;color:#666;">0.6s</div><div class="t" style="left:1445.04px;top:696.81px;font-size:24.2px;letter-spacing:-1.676px;color:#666;">0.8s</div><div class="t" style="left:1663.79px;top:696.81px;font-size:24.2px;letter-spacing:-1.676px;color:#666;">0.9s</div>
</body></html>
